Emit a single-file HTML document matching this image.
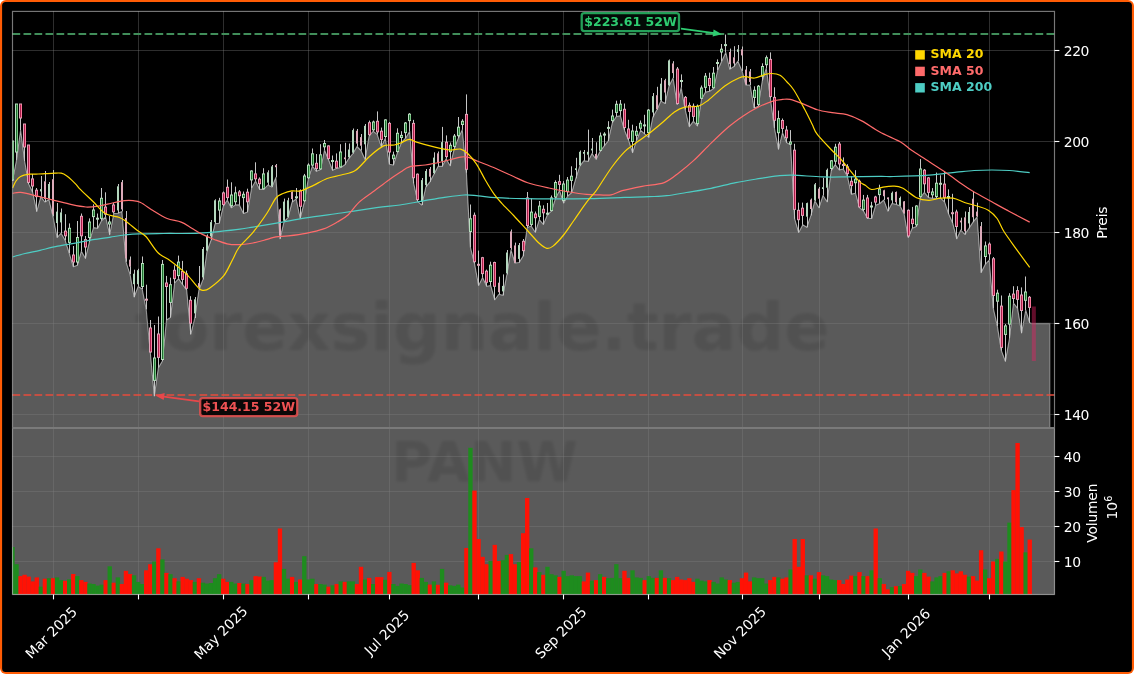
<!DOCTYPE html>
<html lang="de"><head><meta charset="utf-8"><title>PANW Chart</title>
<style>html,body{margin:0;padding:0;background:#fff}svg{display:block}text{font-family:"DejaVu Sans","Liberation Sans",sans-serif}</style>
</head><body>
<svg width="1134" height="674" viewBox="0 0 1134 674">
<defs>
<clipPath id="cm"><rect x="12.5" y="11.4" width="1042.0" height="416.6"/></clipPath>
<clipPath id="cv"><rect x="12.5" y="428.0" width="1042.0" height="166.5"/></clipPath>
<filter id="bl" x="-5%" y="-20%" width="110%" height="140%"><feGaussianBlur stdDeviation="1.6"/></filter>
</defs>
<rect x="0" y="0" width="1134" height="674" rx="6" ry="6" fill="#ff5c05"/>
<rect x="2.1" y="2.1" width="1129.8" height="669.8" rx="3.5" ry="3.5" fill="#000"/>
<rect x="12.5" y="428.0" width="1042.0" height="166.5" fill="#5a5a5a"/>
<g clip-path="url(#cm)">
<polygon points="12.5,428.0 12.5,181.0 12.5,181.0 16.5,160.0 20.6,130.0 24.6,161.0 28.7,184.0 32.7,192.3 36.8,211.4 40.8,196.6 44.9,202.0 48.9,199.5 53.0,216.3 57.1,237.5 61.1,233.2 65.2,240.3 69.2,253.0 73.3,266.7 77.3,265.3 81.4,251.2 85.4,258.3 89.5,241.7 93.5,227.6 97.6,228.3 101.6,220.5 105.7,217.0 109.7,234.7 113.8,213.5 117.8,213.2 121.9,211.4 126.0,261.8 130.0,274.1 134.1,297.0 138.1,286.5 142.2,289.0 146.2,309.4 150.3,352.5 154.3,396.0 158.4,367.7 162.4,361.0 166.5,320.0 170.5,317.4 174.6,283.0 178.6,278.6 182.7,284.7 186.7,290.0 190.8,334.1 194.8,318.0 198.9,290.0 203.0,279.4 207.0,251.2 211.1,240.0 215.1,223.6 219.2,223.2 223.2,206.3 227.3,200.0 231.3,207.7 235.4,204.9 239.4,204.9 243.5,213.4 247.5,212.0 251.6,188.0 255.6,180.9 259.7,189.4 263.7,189.4 267.8,185.0 271.9,187.0 275.9,177.4 280.0,238.6 284.0,221.8 288.1,217.4 292.1,202.0 296.2,199.0 300.2,218.3 304.3,202.0 308.3,178.8 312.4,166.0 316.4,171.3 320.5,169.6 324.5,150.0 328.6,159.8 332.6,170.3 336.7,168.2 340.8,167.5 344.8,164.7 348.9,158.3 352.9,153.5 357.0,146.5 361.0,150.5 365.1,159.4 369.1,136.0 373.2,131.2 377.2,134.4 381.3,146.7 385.3,138.2 389.4,164.3 393.4,165.0 397.5,152.3 401.5,142.5 405.6,138.2 409.7,131.2 413.7,183.4 417.8,201.7 421.8,205.0 425.9,186.9 429.9,181.8 434.0,174.0 438.0,166.4 442.1,166.4 446.1,158.7 450.2,165.7 454.2,148.8 458.3,138.2 462.3,129.8 466.4,172.8 470.4,247.4 474.5,263.3 478.6,285.5 482.6,277.5 486.7,286.3 490.7,285.5 494.8,299.8 498.8,294.2 502.9,295.3 506.9,274.4 511.0,249.8 515.0,263.0 519.1,262.5 523.1,256.1 527.2,227.5 531.2,226.0 535.3,232.3 539.3,219.6 543.4,224.4 547.5,214.5 551.5,211.2 555.6,198.0 559.6,190.5 563.7,203.1 567.7,196.0 571.8,192.5 575.8,178.3 579.9,165.9 583.9,160.7 588.0,161.4 592.0,153.6 596.1,159.3 600.1,151.3 604.2,145.9 608.2,140.9 612.3,122.8 616.3,116.5 620.4,115.8 624.5,130.2 628.5,140.0 632.6,152.6 636.6,140.2 640.7,130.3 644.7,133.9 648.8,137.3 652.8,117.2 656.9,109.7 660.9,100.9 665.0,103.5 669.0,85.9 673.1,78.0 677.1,104.4 681.2,87.7 685.2,109.7 689.3,126.6 693.4,121.2 697.4,125.8 701.5,99.0 705.5,92.1 709.6,91.2 713.6,88.5 717.7,70.0 721.7,61.2 725.8,52.4 729.8,69.1 733.9,66.5 737.9,61.2 742.0,70.9 746.0,85.0 750.1,85.0 754.1,108.0 758.2,106.2 762.3,80.6 766.3,68.2 770.4,98.3 774.4,128.0 778.5,149.2 782.5,132.6 786.6,142.5 790.6,144.9 794.7,218.8 798.7,232.5 802.8,224.8 806.8,227.3 810.9,215.4 814.9,200.9 819.0,207.7 823.0,195.5 827.1,201.8 831.2,170.6 835.2,164.6 839.3,169.9 843.3,169.0 847.4,176.3 851.4,194.1 855.5,193.2 859.5,207.7 863.6,211.1 867.6,218.5 871.7,218.5 875.7,205.2 879.8,203.5 883.8,200.0 887.9,211.1 891.9,203.5 896.0,204.3 900.1,206.0 904.1,213.7 908.2,237.5 912.2,228.2 916.3,226.5 920.3,197.5 924.4,192.4 928.4,197.5 932.5,198.3 936.5,198.2 940.6,198.2 944.6,201.8 948.7,214.1 952.7,223.0 956.8,238.8 960.8,230.0 964.9,234.4 968.9,228.3 973.0,222.1 977.1,216.8 981.1,272.4 985.2,264.4 989.2,260.0 993.3,308.3 997.3,325.9 1001.4,350.6 1005.4,361.2 1009.5,338.3 1013.5,303.0 1017.6,308.3 1021.6,333.0 1025.7,310.0 1029.7,322.7 1031.2,323.3 1049.8,323.3 1049.8,428.0" fill="#5a5a5a"/>
<polyline points="12.5,181.0 16.5,160.0 20.6,130.0 24.6,161.0 28.7,184.0 32.7,192.3 36.8,211.4 40.8,196.6 44.9,202.0 48.9,199.5 53.0,216.3 57.1,237.5 61.1,233.2 65.2,240.3 69.2,253.0 73.3,266.7 77.3,265.3 81.4,251.2 85.4,258.3 89.5,241.7 93.5,227.6 97.6,228.3 101.6,220.5 105.7,217.0 109.7,234.7 113.8,213.5 117.8,213.2 121.9,211.4 126.0,261.8 130.0,274.1 134.1,297.0 138.1,286.5 142.2,289.0 146.2,309.4 150.3,352.5 154.3,396.0 158.4,367.7 162.4,361.0 166.5,320.0 170.5,317.4 174.6,283.0 178.6,278.6 182.7,284.7 186.7,290.0 190.8,334.1 194.8,318.0 198.9,290.0 203.0,279.4 207.0,251.2 211.1,240.0 215.1,223.6 219.2,223.2 223.2,206.3 227.3,200.0 231.3,207.7 235.4,204.9 239.4,204.9 243.5,213.4 247.5,212.0 251.6,188.0 255.6,180.9 259.7,189.4 263.7,189.4 267.8,185.0 271.9,187.0 275.9,177.4 280.0,238.6 284.0,221.8 288.1,217.4 292.1,202.0 296.2,199.0 300.2,218.3 304.3,202.0 308.3,178.8 312.4,166.0 316.4,171.3 320.5,169.6 324.5,150.0 328.6,159.8 332.6,170.3 336.7,168.2 340.8,167.5 344.8,164.7 348.9,158.3 352.9,153.5 357.0,146.5 361.0,150.5 365.1,159.4 369.1,136.0 373.2,131.2 377.2,134.4 381.3,146.7 385.3,138.2 389.4,164.3 393.4,165.0 397.5,152.3 401.5,142.5 405.6,138.2 409.7,131.2 413.7,183.4 417.8,201.7 421.8,205.0 425.9,186.9 429.9,181.8 434.0,174.0 438.0,166.4 442.1,166.4 446.1,158.7 450.2,165.7 454.2,148.8 458.3,138.2 462.3,129.8 466.4,172.8 470.4,247.4 474.5,263.3 478.6,285.5 482.6,277.5 486.7,286.3 490.7,285.5 494.8,299.8 498.8,294.2 502.9,295.3 506.9,274.4 511.0,249.8 515.0,263.0 519.1,262.5 523.1,256.1 527.2,227.5 531.2,226.0 535.3,232.3 539.3,219.6 543.4,224.4 547.5,214.5 551.5,211.2 555.6,198.0 559.6,190.5 563.7,203.1 567.7,196.0 571.8,192.5 575.8,178.3 579.9,165.9 583.9,160.7 588.0,161.4 592.0,153.6 596.1,159.3 600.1,151.3 604.2,145.9 608.2,140.9 612.3,122.8 616.3,116.5 620.4,115.8 624.5,130.2 628.5,140.0 632.6,152.6 636.6,140.2 640.7,130.3 644.7,133.9 648.8,137.3 652.8,117.2 656.9,109.7 660.9,100.9 665.0,103.5 669.0,85.9 673.1,78.0 677.1,104.4 681.2,87.7 685.2,109.7 689.3,126.6 693.4,121.2 697.4,125.8 701.5,99.0 705.5,92.1 709.6,91.2 713.6,88.5 717.7,70.0 721.7,61.2 725.8,52.4 729.8,69.1 733.9,66.5 737.9,61.2 742.0,70.9 746.0,85.0 750.1,85.0 754.1,108.0 758.2,106.2 762.3,80.6 766.3,68.2 770.4,98.3 774.4,128.0 778.5,149.2 782.5,132.6 786.6,142.5 790.6,144.9 794.7,218.8 798.7,232.5 802.8,224.8 806.8,227.3 810.9,215.4 814.9,200.9 819.0,207.7 823.0,195.5 827.1,201.8 831.2,170.6 835.2,164.6 839.3,169.9 843.3,169.0 847.4,176.3 851.4,194.1 855.5,193.2 859.5,207.7 863.6,211.1 867.6,218.5 871.7,218.5 875.7,205.2 879.8,203.5 883.8,200.0 887.9,211.1 891.9,203.5 896.0,204.3 900.1,206.0 904.1,213.7 908.2,237.5 912.2,228.2 916.3,226.5 920.3,197.5 924.4,192.4 928.4,197.5 932.5,198.3 936.5,198.2 940.6,198.2 944.6,201.8 948.7,214.1 952.7,223.0 956.8,238.8 960.8,230.0 964.9,234.4 968.9,228.3 973.0,222.1 977.1,216.8 981.1,272.4 985.2,264.4 989.2,260.0 993.3,308.3 997.3,325.9 1001.4,350.6 1005.4,361.2 1009.5,338.3 1013.5,303.0 1017.6,308.3 1021.6,333.0 1025.7,310.0 1029.7,322.7 1031.2,323.3" fill="none" stroke="#fff" stroke-opacity="0.55" stroke-width="1.1" stroke-linejoin="round"/>
<polyline points="1031.2,323.4 1049.8,323.4 1049.8,428.0" fill="none" stroke="#fff" stroke-opacity="0.3" stroke-width="1.5"/>
</g>
<g clip-path="url(#cm)"><text x="482" y="350" text-anchor="middle" font-size="66.7" font-weight="bold" fill="#000" fill-opacity="0.1" filter="url(#bl)">forexsignale.trade</text></g>
<g clip-path="url(#cv)"><text x="484.5" y="481" text-anchor="middle" font-size="55.6" font-weight="bold" fill="#000" fill-opacity="0.1" filter="url(#bl)">PANW</text></g>
<g stroke="#808080" stroke-opacity="0.36" stroke-width="1">
<line x1="53.5" y1="11.4" x2="53.5" y2="594.5"/>
<line x1="138.5" y1="11.4" x2="138.5" y2="594.5"/>
<line x1="223.5" y1="11.4" x2="223.5" y2="594.5"/>
<line x1="308.5" y1="11.4" x2="308.5" y2="594.5"/>
<line x1="389.5" y1="11.4" x2="389.5" y2="594.5"/>
<line x1="478.5" y1="11.4" x2="478.5" y2="594.5"/>
<line x1="563.5" y1="11.4" x2="563.5" y2="594.5"/>
<line x1="648.5" y1="11.4" x2="648.5" y2="594.5"/>
<line x1="742.5" y1="11.4" x2="742.5" y2="594.5"/>
<line x1="819.5" y1="11.4" x2="819.5" y2="594.5"/>
<line x1="908.5" y1="11.4" x2="908.5" y2="594.5"/>
<line x1="989.5" y1="11.4" x2="989.5" y2="594.5"/>
<line x1="12.5" y1="50.5" x2="1054.5" y2="50.5"/>
<line x1="12.5" y1="141.5" x2="1054.5" y2="141.5"/>
<line x1="12.5" y1="232.5" x2="1054.5" y2="232.5"/>
<line x1="12.5" y1="323.5" x2="1054.5" y2="323.5"/>
<line x1="12.5" y1="414.5" x2="1054.5" y2="414.5"/>
<line x1="12.5" y1="456.5" x2="1054.5" y2="456.5"/>
<line x1="12.5" y1="491.5" x2="1054.5" y2="491.5"/>
<line x1="12.5" y1="526.5" x2="1054.5" y2="526.5"/>
<line x1="12.5" y1="561.5" x2="1054.5" y2="561.5"/>
</g>
<g clip-path="url(#cv)">
<rect x="10.29" y="547.0" width="4.35" height="47.5" fill="#1e8c1e"/>
<rect x="14.35" y="564.2" width="4.35" height="30.3" fill="#1e8c1e"/>
<rect x="18.40" y="576.1" width="4.35" height="18.4" fill="#ff1205"/>
<rect x="22.45" y="574.8" width="4.35" height="19.7" fill="#ff1205"/>
<rect x="26.51" y="576.6" width="4.35" height="17.9" fill="#ff1205"/>
<rect x="30.56" y="581.4" width="4.35" height="13.1" fill="#ff1205"/>
<rect x="34.61" y="577.4" width="4.35" height="17.1" fill="#ff1205"/>
<rect x="38.66" y="586.7" width="4.35" height="7.8" fill="#1e8c1e"/>
<rect x="42.72" y="578.7" width="4.35" height="15.8" fill="#ff1205"/>
<rect x="46.77" y="578.2" width="4.35" height="16.3" fill="#1e8c1e"/>
<rect x="50.82" y="578.2" width="4.35" height="16.3" fill="#ff1205"/>
<rect x="54.88" y="577.4" width="4.35" height="17.1" fill="#1e8c1e"/>
<rect x="58.93" y="580.1" width="4.35" height="14.4" fill="#1e8c1e"/>
<rect x="62.98" y="580.8" width="4.35" height="13.7" fill="#ff1205"/>
<rect x="67.03" y="579.3" width="4.35" height="15.2" fill="#1e8c1e"/>
<rect x="71.09" y="574.0" width="4.35" height="20.5" fill="#ff1205"/>
<rect x="75.14" y="576.1" width="4.35" height="18.4" fill="#1e8c1e"/>
<rect x="79.19" y="580.1" width="4.35" height="14.4" fill="#ff1205"/>
<rect x="83.25" y="581.9" width="4.35" height="12.6" fill="#ff1205"/>
<rect x="87.30" y="583.5" width="4.35" height="11.0" fill="#1e8c1e"/>
<rect x="91.35" y="584.0" width="4.35" height="10.5" fill="#1e8c1e"/>
<rect x="95.40" y="585.6" width="4.35" height="8.9" fill="#1e8c1e"/>
<rect x="99.46" y="584.6" width="4.35" height="9.9" fill="#1e8c1e"/>
<rect x="103.51" y="580.1" width="4.35" height="14.4" fill="#ff1205"/>
<rect x="107.56" y="566.3" width="4.35" height="28.2" fill="#1e8c1e"/>
<rect x="111.62" y="582.7" width="4.35" height="11.8" fill="#ff1205"/>
<rect x="115.67" y="577.4" width="4.35" height="17.1" fill="#1e8c1e"/>
<rect x="119.72" y="584.0" width="4.35" height="10.5" fill="#ff1205"/>
<rect x="123.77" y="570.8" width="4.35" height="23.7" fill="#ff1205"/>
<rect x="127.83" y="574.0" width="4.35" height="20.5" fill="#ff1205"/>
<rect x="131.88" y="575.3" width="4.35" height="19.2" fill="#1e8c1e"/>
<rect x="135.93" y="581.9" width="4.35" height="12.6" fill="#1e8c1e"/>
<rect x="139.99" y="584.0" width="4.35" height="10.5" fill="#1e8c1e"/>
<rect x="144.04" y="570.3" width="4.35" height="24.2" fill="#ff1205"/>
<rect x="148.09" y="564.2" width="4.35" height="30.3" fill="#ff1205"/>
<rect x="152.14" y="561.5" width="4.35" height="33.0" fill="#1e8c1e"/>
<rect x="156.20" y="548.3" width="4.35" height="46.2" fill="#ff1205"/>
<rect x="160.25" y="559.4" width="4.35" height="35.1" fill="#1e8c1e"/>
<rect x="164.30" y="572.9" width="4.35" height="21.6" fill="#ff1205"/>
<rect x="168.36" y="574.2" width="4.35" height="20.3" fill="#1e8c1e"/>
<rect x="172.41" y="578.2" width="4.35" height="16.3" fill="#ff1205"/>
<rect x="176.46" y="581.4" width="4.35" height="13.1" fill="#1e8c1e"/>
<rect x="180.51" y="576.9" width="4.35" height="17.6" fill="#ff1205"/>
<rect x="184.57" y="578.7" width="4.35" height="15.8" fill="#ff1205"/>
<rect x="188.62" y="580.1" width="4.35" height="14.4" fill="#ff1205"/>
<rect x="192.67" y="581.9" width="4.35" height="12.6" fill="#1e8c1e"/>
<rect x="196.73" y="578.2" width="4.35" height="16.3" fill="#ff1205"/>
<rect x="200.78" y="582.7" width="4.35" height="11.8" fill="#1e8c1e"/>
<rect x="204.83" y="583.5" width="4.35" height="11.0" fill="#1e8c1e"/>
<rect x="208.88" y="583.0" width="4.35" height="11.5" fill="#1e8c1e"/>
<rect x="212.94" y="578.2" width="4.35" height="16.3" fill="#1e8c1e"/>
<rect x="216.99" y="574.2" width="4.35" height="20.3" fill="#1e8c1e"/>
<rect x="221.04" y="578.7" width="4.35" height="15.8" fill="#ff1205"/>
<rect x="225.10" y="581.9" width="4.35" height="12.6" fill="#ff1205"/>
<rect x="229.15" y="581.9" width="4.35" height="12.6" fill="#1e8c1e"/>
<rect x="233.20" y="583.5" width="4.35" height="11.0" fill="#1e8c1e"/>
<rect x="237.25" y="583.0" width="4.35" height="11.5" fill="#ff1205"/>
<rect x="241.31" y="583.5" width="4.35" height="11.0" fill="#1e8c1e"/>
<rect x="245.36" y="584.0" width="4.35" height="10.5" fill="#ff1205"/>
<rect x="249.41" y="580.1" width="4.35" height="14.4" fill="#1e8c1e"/>
<rect x="253.47" y="576.1" width="4.35" height="18.4" fill="#ff1205"/>
<rect x="257.52" y="576.6" width="4.35" height="17.9" fill="#ff1205"/>
<rect x="261.57" y="576.9" width="4.35" height="17.6" fill="#1e8c1e"/>
<rect x="265.63" y="580.6" width="4.35" height="13.9" fill="#1e8c1e"/>
<rect x="269.68" y="580.1" width="4.35" height="14.4" fill="#1e8c1e"/>
<rect x="273.73" y="562.3" width="4.35" height="32.2" fill="#ff1205"/>
<rect x="277.78" y="528.5" width="4.35" height="66.0" fill="#ff1205"/>
<rect x="281.84" y="568.9" width="4.35" height="25.6" fill="#1e8c1e"/>
<rect x="285.89" y="578.7" width="4.35" height="15.8" fill="#1e8c1e"/>
<rect x="289.94" y="576.9" width="4.35" height="17.6" fill="#ff1205"/>
<rect x="294.00" y="581.9" width="4.35" height="12.6" fill="#1e8c1e"/>
<rect x="298.05" y="579.5" width="4.35" height="15.0" fill="#ff1205"/>
<rect x="302.10" y="556.2" width="4.35" height="38.3" fill="#1e8c1e"/>
<rect x="306.15" y="579.5" width="4.35" height="15.0" fill="#1e8c1e"/>
<rect x="310.21" y="578.7" width="4.35" height="15.8" fill="#1e8c1e"/>
<rect x="314.26" y="584.0" width="4.35" height="10.5" fill="#ff1205"/>
<rect x="318.31" y="584.0" width="4.35" height="10.5" fill="#1e8c1e"/>
<rect x="322.37" y="584.6" width="4.35" height="9.9" fill="#1e8c1e"/>
<rect x="326.42" y="586.7" width="4.35" height="7.8" fill="#ff1205"/>
<rect x="330.47" y="585.3" width="4.35" height="9.2" fill="#1e8c1e"/>
<rect x="334.52" y="584.0" width="4.35" height="10.5" fill="#ff1205"/>
<rect x="338.58" y="581.4" width="4.35" height="13.1" fill="#1e8c1e"/>
<rect x="342.63" y="581.9" width="4.35" height="12.6" fill="#ff1205"/>
<rect x="346.68" y="581.4" width="4.35" height="13.1" fill="#1e8c1e"/>
<rect x="350.74" y="581.4" width="4.35" height="13.1" fill="#1e8c1e"/>
<rect x="354.79" y="584.0" width="4.35" height="10.5" fill="#ff1205"/>
<rect x="358.84" y="566.8" width="4.35" height="27.7" fill="#ff1205"/>
<rect x="362.89" y="579.5" width="4.35" height="15.0" fill="#1e8c1e"/>
<rect x="366.95" y="577.9" width="4.35" height="16.6" fill="#ff1205"/>
<rect x="371.00" y="584.0" width="4.35" height="10.5" fill="#1e8c1e"/>
<rect x="375.05" y="577.1" width="4.35" height="17.4" fill="#ff1205"/>
<rect x="379.11" y="577.1" width="4.35" height="17.4" fill="#ff1205"/>
<rect x="383.16" y="579.8" width="4.35" height="14.7" fill="#1e8c1e"/>
<rect x="387.21" y="571.9" width="4.35" height="22.6" fill="#ff1205"/>
<rect x="391.26" y="584.0" width="4.35" height="10.5" fill="#1e8c1e"/>
<rect x="395.32" y="585.9" width="4.35" height="8.6" fill="#1e8c1e"/>
<rect x="399.37" y="583.5" width="4.35" height="11.0" fill="#1e8c1e"/>
<rect x="403.42" y="584.0" width="4.35" height="10.5" fill="#1e8c1e"/>
<rect x="407.48" y="585.1" width="4.35" height="9.4" fill="#1e8c1e"/>
<rect x="411.53" y="562.9" width="4.35" height="31.6" fill="#ff1205"/>
<rect x="415.58" y="570.3" width="4.35" height="24.2" fill="#ff1205"/>
<rect x="419.63" y="577.9" width="4.35" height="16.6" fill="#1e8c1e"/>
<rect x="423.69" y="581.9" width="4.35" height="12.6" fill="#1e8c1e"/>
<rect x="427.74" y="584.6" width="4.35" height="9.9" fill="#ff1205"/>
<rect x="431.79" y="581.4" width="4.35" height="13.1" fill="#1e8c1e"/>
<rect x="435.85" y="584.8" width="4.35" height="9.7" fill="#ff1205"/>
<rect x="439.90" y="568.9" width="4.35" height="25.6" fill="#1e8c1e"/>
<rect x="443.95" y="582.7" width="4.35" height="11.8" fill="#ff1205"/>
<rect x="448.00" y="585.3" width="4.35" height="9.2" fill="#1e8c1e"/>
<rect x="452.06" y="585.9" width="4.35" height="8.6" fill="#1e8c1e"/>
<rect x="456.11" y="584.6" width="4.35" height="9.9" fill="#1e8c1e"/>
<rect x="460.16" y="587.5" width="4.35" height="7.0" fill="#1e8c1e"/>
<rect x="464.22" y="548.0" width="4.35" height="46.5" fill="#ff1205"/>
<rect x="468.27" y="447.8" width="4.35" height="146.7" fill="#1e8c1e"/>
<rect x="472.32" y="490.6" width="4.35" height="103.9" fill="#ff1205"/>
<rect x="476.37" y="539.0" width="4.35" height="55.5" fill="#ff1205"/>
<rect x="480.43" y="556.8" width="4.35" height="37.7" fill="#ff1205"/>
<rect x="484.48" y="564.2" width="4.35" height="30.3" fill="#ff1205"/>
<rect x="488.53" y="561.0" width="4.35" height="33.5" fill="#1e8c1e"/>
<rect x="492.59" y="544.9" width="4.35" height="49.6" fill="#ff1205"/>
<rect x="496.64" y="561.0" width="4.35" height="33.5" fill="#ff1205"/>
<rect x="500.69" y="560.2" width="4.35" height="34.3" fill="#1e8c1e"/>
<rect x="504.74" y="554.9" width="4.35" height="39.6" fill="#1e8c1e"/>
<rect x="508.80" y="554.1" width="4.35" height="40.4" fill="#ff1205"/>
<rect x="512.85" y="564.2" width="4.35" height="30.3" fill="#ff1205"/>
<rect x="516.90" y="562.1" width="4.35" height="32.4" fill="#1e8c1e"/>
<rect x="520.96" y="533.2" width="4.35" height="61.3" fill="#ff1205"/>
<rect x="525.01" y="498.0" width="4.35" height="96.5" fill="#ff1205"/>
<rect x="529.06" y="548.3" width="4.35" height="46.2" fill="#1e8c1e"/>
<rect x="533.12" y="567.4" width="4.35" height="27.1" fill="#ff1205"/>
<rect x="537.17" y="572.1" width="4.35" height="22.4" fill="#1e8c1e"/>
<rect x="541.22" y="574.8" width="4.35" height="19.7" fill="#ff1205"/>
<rect x="545.27" y="566.8" width="4.35" height="27.7" fill="#1e8c1e"/>
<rect x="549.33" y="574.2" width="4.35" height="20.3" fill="#1e8c1e"/>
<rect x="553.38" y="575.3" width="4.35" height="19.2" fill="#1e8c1e"/>
<rect x="557.43" y="576.9" width="4.35" height="17.6" fill="#ff1205"/>
<rect x="561.49" y="570.8" width="4.35" height="23.7" fill="#1e8c1e"/>
<rect x="565.54" y="576.1" width="4.35" height="18.4" fill="#1e8c1e"/>
<rect x="569.59" y="575.3" width="4.35" height="19.2" fill="#1e8c1e"/>
<rect x="573.64" y="576.1" width="4.35" height="18.4" fill="#1e8c1e"/>
<rect x="577.70" y="576.1" width="4.35" height="18.4" fill="#1e8c1e"/>
<rect x="581.75" y="581.4" width="4.35" height="13.1" fill="#ff1205"/>
<rect x="585.80" y="572.6" width="4.35" height="21.9" fill="#ff1205"/>
<rect x="589.86" y="580.6" width="4.35" height="13.9" fill="#1e8c1e"/>
<rect x="593.91" y="580.1" width="4.35" height="14.4" fill="#ff1205"/>
<rect x="597.96" y="574.2" width="4.35" height="20.3" fill="#1e8c1e"/>
<rect x="602.01" y="576.9" width="4.35" height="17.6" fill="#ff1205"/>
<rect x="606.07" y="578.2" width="4.35" height="16.3" fill="#1e8c1e"/>
<rect x="610.12" y="577.9" width="4.35" height="16.6" fill="#1e8c1e"/>
<rect x="614.17" y="564.2" width="4.35" height="30.3" fill="#1e8c1e"/>
<rect x="618.23" y="578.2" width="4.35" height="16.3" fill="#1e8c1e"/>
<rect x="622.28" y="570.8" width="4.35" height="23.7" fill="#ff1205"/>
<rect x="626.33" y="577.9" width="4.35" height="16.6" fill="#ff1205"/>
<rect x="630.38" y="570.3" width="4.35" height="24.2" fill="#1e8c1e"/>
<rect x="634.44" y="577.4" width="4.35" height="17.1" fill="#1e8c1e"/>
<rect x="638.49" y="577.9" width="4.35" height="16.6" fill="#1e8c1e"/>
<rect x="642.54" y="580.1" width="4.35" height="14.4" fill="#ff1205"/>
<rect x="646.60" y="576.1" width="4.35" height="18.4" fill="#1e8c1e"/>
<rect x="650.65" y="577.9" width="4.35" height="16.6" fill="#1e8c1e"/>
<rect x="654.70" y="577.9" width="4.35" height="16.6" fill="#ff1205"/>
<rect x="658.75" y="570.3" width="4.35" height="24.2" fill="#1e8c1e"/>
<rect x="662.81" y="577.9" width="4.35" height="16.6" fill="#ff1205"/>
<rect x="666.86" y="578.2" width="4.35" height="16.3" fill="#1e8c1e"/>
<rect x="670.91" y="580.1" width="4.35" height="14.4" fill="#ff1205"/>
<rect x="674.97" y="576.9" width="4.35" height="17.6" fill="#ff1205"/>
<rect x="679.02" y="579.5" width="4.35" height="15.0" fill="#ff1205"/>
<rect x="683.07" y="580.1" width="4.35" height="14.4" fill="#ff1205"/>
<rect x="687.12" y="578.2" width="4.35" height="16.3" fill="#ff1205"/>
<rect x="691.18" y="581.9" width="4.35" height="12.6" fill="#ff1205"/>
<rect x="695.23" y="578.7" width="4.35" height="15.8" fill="#1e8c1e"/>
<rect x="699.28" y="580.6" width="4.35" height="13.9" fill="#1e8c1e"/>
<rect x="703.34" y="581.4" width="4.35" height="13.1" fill="#1e8c1e"/>
<rect x="707.39" y="580.1" width="4.35" height="14.4" fill="#ff1205"/>
<rect x="711.44" y="581.9" width="4.35" height="12.6" fill="#1e8c1e"/>
<rect x="715.49" y="583.5" width="4.35" height="11.0" fill="#1e8c1e"/>
<rect x="719.55" y="577.4" width="4.35" height="17.1" fill="#1e8c1e"/>
<rect x="723.60" y="579.5" width="4.35" height="15.0" fill="#1e8c1e"/>
<rect x="727.65" y="580.1" width="4.35" height="14.4" fill="#ff1205"/>
<rect x="731.71" y="582.7" width="4.35" height="11.8" fill="#1e8c1e"/>
<rect x="735.76" y="581.9" width="4.35" height="12.6" fill="#1e8c1e"/>
<rect x="739.81" y="578.2" width="4.35" height="16.3" fill="#ff1205"/>
<rect x="743.86" y="572.6" width="4.35" height="21.9" fill="#ff1205"/>
<rect x="747.92" y="581.4" width="4.35" height="13.1" fill="#ff1205"/>
<rect x="751.97" y="577.4" width="4.35" height="17.1" fill="#1e8c1e"/>
<rect x="756.02" y="578.2" width="4.35" height="16.3" fill="#1e8c1e"/>
<rect x="760.08" y="578.2" width="4.35" height="16.3" fill="#1e8c1e"/>
<rect x="764.13" y="583.5" width="4.35" height="11.0" fill="#1e8c1e"/>
<rect x="768.18" y="580.1" width="4.35" height="14.4" fill="#ff1205"/>
<rect x="772.24" y="576.9" width="4.35" height="17.6" fill="#ff1205"/>
<rect x="776.29" y="577.4" width="4.35" height="17.1" fill="#1e8c1e"/>
<rect x="780.34" y="578.7" width="4.35" height="15.8" fill="#ff1205"/>
<rect x="784.39" y="577.4" width="4.35" height="17.1" fill="#ff1205"/>
<rect x="788.45" y="569.5" width="4.35" height="25.0" fill="#1e8c1e"/>
<rect x="792.50" y="539.0" width="4.35" height="55.5" fill="#ff1205"/>
<rect x="796.55" y="566.8" width="4.35" height="27.7" fill="#ff1205"/>
<rect x="800.61" y="539.0" width="4.35" height="55.5" fill="#ff1205"/>
<rect x="804.66" y="575.3" width="4.35" height="19.2" fill="#1e8c1e"/>
<rect x="808.71" y="575.3" width="4.35" height="19.2" fill="#ff1205"/>
<rect x="812.76" y="578.7" width="4.35" height="15.8" fill="#1e8c1e"/>
<rect x="816.82" y="572.1" width="4.35" height="22.4" fill="#ff1205"/>
<rect x="820.87" y="575.3" width="4.35" height="19.2" fill="#1e8c1e"/>
<rect x="824.92" y="576.1" width="4.35" height="18.4" fill="#1e8c1e"/>
<rect x="828.98" y="579.5" width="4.35" height="15.0" fill="#1e8c1e"/>
<rect x="833.03" y="580.1" width="4.35" height="14.4" fill="#1e8c1e"/>
<rect x="837.08" y="580.1" width="4.35" height="14.4" fill="#ff1205"/>
<rect x="841.13" y="584.0" width="4.35" height="10.5" fill="#ff1205"/>
<rect x="845.19" y="579.5" width="4.35" height="15.0" fill="#ff1205"/>
<rect x="849.24" y="575.6" width="4.35" height="18.9" fill="#ff1205"/>
<rect x="853.29" y="576.1" width="4.35" height="18.4" fill="#1e8c1e"/>
<rect x="857.35" y="572.1" width="4.35" height="22.4" fill="#ff1205"/>
<rect x="861.40" y="576.1" width="4.35" height="18.4" fill="#1e8c1e"/>
<rect x="865.45" y="576.1" width="4.35" height="18.4" fill="#ff1205"/>
<rect x="869.50" y="570.3" width="4.35" height="24.2" fill="#1e8c1e"/>
<rect x="873.56" y="528.5" width="4.35" height="66.0" fill="#ff1205"/>
<rect x="877.61" y="578.2" width="4.35" height="16.3" fill="#1e8c1e"/>
<rect x="881.66" y="584.0" width="4.35" height="10.5" fill="#ff1205"/>
<rect x="885.72" y="589.3" width="4.35" height="5.2" fill="#ff1205"/>
<rect x="889.77" y="587.2" width="4.35" height="7.3" fill="#1e8c1e"/>
<rect x="893.82" y="586.1" width="4.35" height="8.4" fill="#ff1205"/>
<rect x="897.87" y="586.1" width="4.35" height="8.4" fill="#1e8c1e"/>
<rect x="901.93" y="584.0" width="4.35" height="10.5" fill="#ff1205"/>
<rect x="905.98" y="570.8" width="4.35" height="23.7" fill="#ff1205"/>
<rect x="910.03" y="572.9" width="4.35" height="21.6" fill="#ff1205"/>
<rect x="914.09" y="576.1" width="4.35" height="18.4" fill="#1e8c1e"/>
<rect x="918.14" y="569.5" width="4.35" height="25.0" fill="#1e8c1e"/>
<rect x="922.19" y="572.9" width="4.35" height="21.6" fill="#ff1205"/>
<rect x="926.24" y="576.6" width="4.35" height="17.9" fill="#ff1205"/>
<rect x="930.30" y="581.4" width="4.35" height="13.1" fill="#1e8c1e"/>
<rect x="934.35" y="577.4" width="4.35" height="17.1" fill="#1e8c1e"/>
<rect x="938.40" y="576.1" width="4.35" height="18.4" fill="#1e8c1e"/>
<rect x="942.46" y="572.9" width="4.35" height="21.6" fill="#ff1205"/>
<rect x="946.51" y="571.3" width="4.35" height="23.2" fill="#1e8c1e"/>
<rect x="950.56" y="570.3" width="4.35" height="24.2" fill="#ff1205"/>
<rect x="954.61" y="573.4" width="4.35" height="21.1" fill="#ff1205"/>
<rect x="958.67" y="571.3" width="4.35" height="23.2" fill="#ff1205"/>
<rect x="962.72" y="574.8" width="4.35" height="19.7" fill="#ff1205"/>
<rect x="966.77" y="576.6" width="4.35" height="17.9" fill="#1e8c1e"/>
<rect x="970.83" y="576.1" width="4.35" height="18.4" fill="#ff1205"/>
<rect x="974.88" y="580.6" width="4.35" height="13.9" fill="#ff1205"/>
<rect x="978.93" y="550.2" width="4.35" height="44.3" fill="#ff1205"/>
<rect x="982.98" y="569.5" width="4.35" height="25.0" fill="#1e8c1e"/>
<rect x="987.04" y="578.2" width="4.35" height="16.3" fill="#ff1205"/>
<rect x="991.09" y="561.5" width="4.35" height="33.0" fill="#ff1205"/>
<rect x="995.14" y="558.9" width="4.35" height="35.6" fill="#1e8c1e"/>
<rect x="999.20" y="551.5" width="4.35" height="43.0" fill="#ff1205"/>
<rect x="1003.25" y="561.5" width="4.35" height="33.0" fill="#1e8c1e"/>
<rect x="1007.30" y="522.6" width="4.35" height="71.9" fill="#1e8c1e"/>
<rect x="1011.35" y="490.1" width="4.35" height="104.4" fill="#ff1205"/>
<rect x="1015.41" y="443.0" width="4.35" height="151.5" fill="#ff1205"/>
<rect x="1019.46" y="527.1" width="4.35" height="67.4" fill="#ff1205"/>
<rect x="1023.51" y="552.3" width="4.35" height="42.2" fill="#1e8c1e"/>
<rect x="1027.57" y="539.6" width="4.35" height="54.9" fill="#ff1205"/>
</g>
<g clip-path="url(#cm)">
<path d="M12.5,141.0V141.0M12.5,180.0V181.0M16.5,104.0V104.0M16.5,152.0V160.0M20.5,104.0V104.0M20.5,118.0V130.0M24.5,124.0V124.0M24.5,147.0V161.0M28.5,145.0V145.0M28.5,182.4V184.0M32.5,174.0V178.9M32.5,186.0V192.3M36.5,188.0V190.2M36.5,196.6V211.4M41.5,176.0V189.5M41.5,191.0V196.6M45.5,171.0V181.7M45.5,198.7V202.0M49.5,182.0V184.4M49.5,198.0V199.5M53.5,170.0V179.6M53.5,214.0V216.3M57.5,203.0V212.0M57.5,222.7V237.5M61.5,208.5V212.8M61.5,222.0V233.2M65.5,214.2V231.1M65.5,235.8V240.3M69.5,223.4V228.3M69.5,242.4V253.0M73.5,246.0V255.0M73.5,262.0V266.7M77.5,221.0V237.5M77.5,262.0V265.3M81.5,213.5V216.3M81.5,235.8V251.2M85.5,236.0V239.6M85.5,247.0V258.3M89.5,218.4V222.0M89.5,237.5V241.7M93.5,204.3V210.0M93.5,216.6V227.6M97.5,213.5V218.2M97.5,219.2V228.3M101.5,188.0V198.3M101.5,218.4V220.5M105.5,192.3V207.1M105.5,214.2V217.0M109.5,216.0V222.0M109.5,224.0V234.7M113.5,203.0V205.0M113.5,211.8V213.5M118.5,184.0V186.7M118.5,210.0V213.2M122.5,180.0V182.5M122.5,209.0V211.4M126.5,211.0V218.4M126.5,258.0V261.8M130.5,256.5V260.0M130.5,266.2V274.1M134.5,269.7V274.1M134.5,283.8V297.0M138.5,268.8V270.6M138.5,283.8V286.5M142.5,256.5V263.5M142.5,286.5V289.0M146.5,284.7V299.2M146.5,300.2V309.4M150.5,320.0V328.0M150.5,352.0V352.5M154.5,325.0V358.0M154.5,380.4V396.0M158.5,316.5V334.0M158.5,357.4V367.7M162.5,260.0V264.4M162.5,359.5V361.0M166.5,275.9V283.0M166.5,286.5V320.0M170.5,277.7V284.7M170.5,302.4V317.4M174.5,265.3V270.3M174.5,278.6V283.0M178.5,255.6V262.1M178.5,275.6V278.6M182.5,260.9V271.5M182.5,279.4V284.7M186.5,270.6V273.8M186.5,288.3V290.0M190.5,296.2V300.3M190.5,323.2V334.1M195.5,297.0V299.7M195.5,313.0V318.0M199.5,266.0V283.5M199.5,286.5V290.0M203.5,247.0V249.4M203.5,277.0V279.4M207.5,234.4V236.2M207.5,250.3V251.2M211.5,220.0V222.5M211.5,236.0V240.0M215.5,199.3V200.7M215.5,221.8V223.6M219.5,197.8V201.0M219.5,210.1V223.2M223.5,191.5V192.9M223.5,204.6V206.3M227.5,179.5V187.3M227.5,197.6V200.0M231.5,182.3V195.0M231.5,205.6V207.7M235.5,186.6V192.9M235.5,201.7V204.9M239.5,190.1V191.9M239.5,195.7V204.9M243.5,191.5V194.3M243.5,197.6V213.4M247.5,188.7V192.2M247.5,201.8V212.0M251.5,170.3V171.0M251.5,179.9V188.0M255.5,162.3V173.9M255.5,178.8V180.9M259.5,177.4V179.2M259.5,183.7V189.4M263.5,168.2V173.9M263.5,188.7V189.4M268.5,170.3V172.7M268.5,182.3V185.0M272.5,165.0V166.8M272.5,185.9V187.0M276.5,164.0V165.6M276.5,166.8V177.4M280.5,208.4V209.8M280.5,235.0V238.6M284.5,198.6V202.0M284.5,220.4V221.8M288.5,197.8V200.7M288.5,216.5V217.4M292.5,191.5V192.2M292.5,198.6V202.0M296.5,188.0V196.8M296.5,197.8V199.0M300.5,189.4V190.8M300.5,206.3V218.3M304.5,173.9V176.0M304.5,200.7V202.0M308.5,163.3V165.1M308.5,177.8V178.8M312.5,148.5V153.8M312.5,165.1V166.0M316.5,154.0V163.3M316.5,168.6V171.3M320.5,144.2V154.8M320.5,168.9V169.6M324.5,140.0V143.5M324.5,146.8V150.0M328.5,145.3V145.9M328.5,158.6V159.8M332.5,155.5V160.5M332.5,161.4V170.3M336.5,153.4V161.2M336.5,167.8V168.2M340.5,144.2V152.0M340.5,166.8V167.5M345.5,142.8V157.8M345.5,158.8V164.7M349.5,143.5V149.9M349.5,156.9V158.3M353.5,128.5V130.5M353.5,152.3V153.5M357.5,129.0V131.2M357.5,143.2V146.5M361.5,134.0V137.5M361.5,145.3V150.5M365.5,124.0V126.2M365.5,143.9V159.4M369.5,120.6V122.7M369.5,134.7V136.0M373.5,120.6V122.0M373.5,129.8V131.2M377.5,111.4V121.3M377.5,131.9V134.4M381.5,127.6V131.2M381.5,139.6V146.7M385.5,119.2V119.9M385.5,136.5V138.2M389.5,122.0V123.4M389.5,152.0V164.3M393.5,151.6V155.1M393.5,158.7V165.0M397.5,128.3V133.3M397.5,151.6V152.3M401.5,131.2V135.4M401.5,137.5V142.5M405.5,122.0V123.0M405.5,132.6V138.2M409.5,113.1V114.2M409.5,120.6V131.2M413.5,119.9V123.4M413.5,177.7V183.4M417.5,173.5V174.2M417.5,199.6V201.7M422.5,178.0V180.5M422.5,201.7V205.0M426.5,169.0V171.4M426.5,184.8V186.9M430.5,167.0V169.3M430.5,176.3V181.8M434.5,152.3V158.0M434.5,172.8V174.0M438.5,151.5V153.7M438.5,162.2V166.4M442.5,126.9V142.5M442.5,160.8V166.4M446.5,135.4V142.2M446.5,156.6V158.7M450.5,142.5V145.3M450.5,151.6V165.7M454.5,134.0V136.1M454.5,146.4V148.8M458.5,117.0V127.2M458.5,135.7V138.2M462.5,119.2V121.3M462.5,124.5V129.8M466.5,94.4V114.4M466.5,169.3V172.8M470.5,204.5V218.8M470.5,231.5V247.4M474.5,212.5V215.3M474.5,261.7V263.3M478.5,250.6V264.3M478.5,265.3V285.5M482.5,256.9V257.7M482.5,273.6V277.5M486.5,269.6V271.2M486.5,282.3V286.3M490.5,261.7V265.2M490.5,281.5V285.5M494.5,261.7V262.5M494.5,286.3V299.8M499.5,276.7V283.1M499.5,291.8V294.2M503.5,274.4V286.3M503.5,291.0V295.3M507.5,250.0V252.9M507.5,272.8V274.4M511.5,229.5V231.8M511.5,247.7V249.8M515.5,242.6V245.8M515.5,262.5V263.0M519.5,243.0V245.5M519.5,258.5V262.5M523.5,239.0V241.3M523.5,250.6V256.1M527.5,192.0V197.9M527.5,225.5V227.5M531.5,198.2V212.1M531.5,224.4V226.0M535.5,211.5V214.0M535.5,217.7V232.3M539.5,201.0V206.1M539.5,216.4V219.6M543.5,205.3V209.3M543.5,212.8V224.4M547.5,203.0V213.2M547.5,214.2V214.5M551.5,195.5V197.9M551.5,210.6V211.2M555.5,180.4V182.5M555.5,197.0V198.0M559.5,174.8V181.6M559.5,184.4V190.5M563.5,181.1V184.0M563.5,200.5V203.1M567.5,177.0V180.1M567.5,191.7V196.0M571.5,166.3V176.2M571.5,180.4V192.5M576.5,157.8V168.6M576.5,169.6V178.3M580.5,150.5V152.2M580.5,164.9V165.9M584.5,150.0V152.4M584.5,153.4V160.7M588.5,129.6V152.2M588.5,154.3V161.4M592.5,138.0V149.0M592.5,150.0V153.6M596.5,142.3V154.3M596.5,157.8V159.3M600.5,132.5V136.0M600.5,150.3V151.3M604.5,132.2V134.1M604.5,135.1V145.9M608.5,121.2V127.4M608.5,128.4V140.9M612.5,109.6V116.0M612.5,120.6V122.8M616.5,100.7V104.3M616.5,112.4V116.5M620.5,100.0V104.2M620.5,110.6V115.8M624.5,103.5V109.3M624.5,127.5V130.2M628.5,119.8V129.0M628.5,138.2V140.0M632.5,124.7V131.0M632.5,141.5V152.6M636.5,126.1V131.3M636.5,135.3V140.2M640.5,120.5V123.3M640.5,128.2V130.3M644.5,114.8V124.9M644.5,125.9V133.9M648.5,109.0V110.1M648.5,132.6V137.3M653.5,93.0V96.5M653.5,112.0V117.2M657.5,86.8V95.6M657.5,108.8V109.7M661.5,78.0V84.1M661.5,100.0V100.9M665.5,78.8V80.6M665.5,92.1V103.5M669.5,59.5V60.8M669.5,85.0V85.9M673.5,61.2V63.8M673.5,72.7V78.0M677.5,67.0V69.1M677.5,103.5V104.4M681.5,74.4V80.5M681.5,81.5V87.7M685.5,96.0V97.4M685.5,106.2V109.7M689.5,102.5V105.4M689.5,111.4V126.6M693.5,103.5V106.2M693.5,116.4V121.2M697.5,104.5V106.2M697.5,123.6V125.8M701.5,85.5V88.0M701.5,98.3V99.0M705.5,73.0V76.2M705.5,87.3V92.1M709.5,72.7V78.5M709.5,85.5V91.2M713.5,67.0V73.2M713.5,87.7V88.5M717.5,59.4V62.5M717.5,63.5V70.0M721.5,44.0V49.2M721.5,52.0V61.2M725.5,34.6V44.6M725.5,45.6V52.4M730.5,48.6V52.4M730.5,63.8V69.1M734.5,46.2V57.7M734.5,63.0V66.5M738.5,45.0V49.7M738.5,51.5V61.2M742.5,46.5V49.7M742.5,55.0V70.9M746.5,66.0V70.0M746.5,84.0V85.0M750.5,69.0V71.8M750.5,81.5V85.0M754.5,86.3V90.3M754.5,97.4V108.0M758.5,85.0V86.2M758.5,104.4V106.2M762.5,63.3V66.5M762.5,76.2V80.6M766.5,55.5V57.7M766.5,64.7V68.2M770.5,52.4V59.4M770.5,96.5V98.3M774.5,87.3V97.4M774.5,120.3V128.0M778.5,110.6V118.6M778.5,132.7V149.2M782.5,118.5V120.5M782.5,128.4V132.6M786.5,125.9V130.1M786.5,137.8V142.5M790.5,130.1V142.0M790.5,144.1V144.9M794.5,143.8V150.2M794.5,209.4V218.8M798.5,202.6V210.3M798.5,219.7V232.5M802.5,202.6V208.2M802.5,215.4V224.8M807.5,202.6V203.5M807.5,216.3V227.3M811.5,198.5V200.0M811.5,208.6V215.4M815.5,183.0V184.7M815.5,200.0V200.9M819.5,187.0V189.0M819.5,198.3V207.7M823.5,177.9V187.6M823.5,188.6V195.5M827.5,168.5V170.2M827.5,187.3V201.8M831.5,160.0V160.8M831.5,168.5V170.6M835.5,143.8V147.2M835.5,161.2V164.6M839.5,142.0V144.1M839.5,163.9V169.9M843.5,157.4V164.5M843.5,165.5V169.0M847.5,164.2V166.8M847.5,173.6V176.3M851.5,176.2V181.3M851.5,185.6V194.1M855.5,170.2V179.2M855.5,182.7V193.2M859.5,179.6V181.3M859.5,206.9V207.7M863.5,194.9V200.1M863.5,209.4V211.1M867.5,194.9V198.0M867.5,217.6V218.5M871.5,201.8V206.0M871.5,207.0V218.5M875.5,195.8V197.0M875.5,202.1V205.2M879.5,184.7V189.0M879.5,194.6V203.5M884.5,189.8V190.7M884.5,195.8V200.0M888.5,197.5V197.8M888.5,198.8V211.1M892.5,191.5V193.2M892.5,200.0V203.5M896.5,191.5V192.4M896.5,201.8V204.3M900.5,196.5V198.3M900.5,205.2V206.0M904.5,201.0V201.8M904.5,212.8V213.7M908.5,209.4V210.3M908.5,235.9V237.5M912.5,206.9V219.2M912.5,223.6V228.2M916.5,205.2V206.0M916.5,224.8V226.5M920.5,159.1V169.0M920.5,196.6V197.5M924.5,169.0V170.2M924.5,183.8V192.4M928.5,177.0V177.9M928.5,192.4V197.5M932.5,188.1V192.0M932.5,194.8V198.3M936.5,172.6V183.2M936.5,196.5V198.2M940.5,175.3V183.3M940.5,184.3V198.2M944.5,171.0V184.1M944.5,197.4V201.8M948.5,189.4V196.5M948.5,198.0V214.1M952.5,193.8V212.7M952.5,213.7V223.0M956.5,209.7V212.0M956.5,226.5V238.8M961.5,217.7V221.0M961.5,222.0V230.0M965.5,211.5V217.7M965.5,230.9V234.4M969.5,207.0V212.4M969.5,223.0V228.3M973.5,191.2V199.1M973.5,216.8V222.1M977.5,202.7V212.0M977.5,215.9V216.8M981.5,222.0V226.5M981.5,250.3V272.4M985.5,241.5V245.9M985.5,256.5V264.4M989.5,242.4V244.1M989.5,253.8V260.0M993.5,257.0V258.8M993.5,295.5V308.3M997.5,289.7V293.2M997.5,301.2V325.9M1001.5,295.5V306.1M1001.5,347.4V350.6M1005.5,324.0V325.9M1005.5,334.4V361.2M1009.5,293.2V296.2M1009.5,324.1V338.3M1013.5,286.2V294.1M1013.5,298.5V303.0M1017.5,286.2V290.6M1017.5,299.4V308.3M1021.5,287.4V295.0M1021.5,310.5V333.0M1025.5,276.5V292.0M1025.5,300.3V310.0M1029.5,296.0V297.3M1029.5,307.4V322.7" stroke="#c6c6c6" stroke-width="1" fill="none"/>
<g fill="#b9deC0"><rect x="11" y="140.5" width="3" height="40.0"/><rect x="15" y="103.5" width="3" height="49.0"/><rect x="68" y="227.8" width="3" height="15.1"/><rect x="76" y="237.0" width="3" height="25.5"/><rect x="88" y="221.5" width="3" height="16.5"/><rect x="92" y="209.5" width="3" height="7.6"/><rect x="96" y="217.7" width="3" height="2.0"/><rect x="100" y="197.8" width="3" height="21.1"/><rect x="108" y="221.5" width="3" height="3.0"/><rect x="141" y="263.0" width="3" height="24.0"/><rect x="153" y="357.5" width="3" height="23.4"/><rect x="161" y="263.9" width="3" height="96.1"/><rect x="169" y="284.2" width="3" height="18.7"/><rect x="177" y="261.6" width="3" height="14.5"/><rect x="218" y="200.5" width="3" height="10.1"/><rect x="230" y="194.5" width="3" height="11.6"/><rect x="234" y="192.4" width="3" height="9.8"/><rect x="242" y="193.8" width="3" height="4.3"/><rect x="250" y="170.5" width="3" height="9.9"/><rect x="262" y="173.4" width="3" height="15.8"/><rect x="295" y="196.3" width="3" height="2.0"/><rect x="303" y="175.5" width="3" height="25.7"/><rect x="307" y="164.6" width="3" height="13.7"/><rect x="311" y="153.3" width="3" height="12.3"/><rect x="319" y="154.3" width="3" height="15.1"/><rect x="323" y="143.0" width="3" height="4.3"/><rect x="331" y="160.0" width="3" height="2.0"/><rect x="339" y="151.5" width="3" height="15.8"/><rect x="372" y="121.5" width="3" height="8.8"/><rect x="384" y="119.4" width="3" height="17.6"/><rect x="392" y="154.6" width="3" height="4.6"/><rect x="396" y="132.8" width="3" height="19.3"/><rect x="400" y="134.9" width="3" height="3.1"/><rect x="404" y="122.5" width="3" height="10.6"/><rect x="408" y="113.7" width="3" height="7.4"/><rect x="449" y="144.8" width="3" height="7.3"/><rect x="453" y="135.6" width="3" height="11.3"/><rect x="457" y="126.7" width="3" height="9.5"/><rect x="461" y="120.8" width="3" height="4.2"/><rect x="469" y="218.3" width="3" height="13.7"/><rect x="489" y="264.7" width="3" height="17.3"/><rect x="530" y="211.6" width="3" height="13.3"/><rect x="538" y="205.6" width="3" height="11.3"/><rect x="546" y="212.7" width="3" height="2.0"/><rect x="550" y="197.4" width="3" height="13.7"/><rect x="554" y="182.0" width="3" height="15.5"/><rect x="562" y="183.5" width="3" height="17.5"/><rect x="566" y="179.6" width="3" height="12.6"/><rect x="570" y="175.7" width="3" height="5.2"/><rect x="599" y="135.5" width="3" height="15.3"/><rect x="603" y="133.6" width="3" height="2.0"/><rect x="607" y="126.9" width="3" height="2.0"/><rect x="611" y="115.5" width="3" height="5.6"/><rect x="615" y="103.8" width="3" height="9.1"/><rect x="619" y="103.7" width="3" height="7.4"/><rect x="631" y="130.5" width="3" height="11.5"/><rect x="635" y="130.8" width="3" height="5.0"/><rect x="639" y="122.8" width="3" height="5.9"/><rect x="643" y="124.4" width="3" height="2.0"/><rect x="647" y="109.6" width="3" height="23.5"/><rect x="680" y="80.0" width="3" height="2.0"/><rect x="696" y="105.7" width="3" height="18.4"/><rect x="700" y="87.5" width="3" height="11.3"/><rect x="704" y="75.7" width="3" height="12.1"/><rect x="712" y="72.7" width="3" height="15.5"/><rect x="716" y="62.0" width="3" height="2.0"/><rect x="720" y="48.7" width="3" height="3.8"/><rect x="724" y="44.1" width="3" height="2.0"/><rect x="753" y="89.8" width="3" height="8.1"/><rect x="757" y="85.7" width="3" height="19.2"/><rect x="761" y="66.0" width="3" height="10.7"/><rect x="765" y="57.2" width="3" height="8.0"/><rect x="777" y="118.1" width="3" height="15.1"/><rect x="789" y="141.5" width="3" height="3.1"/><rect x="830" y="160.3" width="3" height="8.7"/><rect x="834" y="146.7" width="3" height="15.0"/><rect x="854" y="178.7" width="3" height="4.5"/><rect x="862" y="199.6" width="3" height="10.3"/><rect x="870" y="205.5" width="3" height="2.0"/><rect x="878" y="188.5" width="3" height="6.6"/><rect x="915" y="205.5" width="3" height="19.8"/><rect x="919" y="168.5" width="3" height="28.6"/><rect x="931" y="191.5" width="3" height="3.8"/><rect x="935" y="182.7" width="3" height="14.3"/><rect x="939" y="182.8" width="3" height="2.0"/><rect x="947" y="196.0" width="3" height="2.5"/><rect x="984" y="245.4" width="3" height="11.6"/><rect x="996" y="292.7" width="3" height="9.0"/><rect x="1004" y="325.4" width="3" height="9.5"/><rect x="1008" y="295.7" width="3" height="28.9"/><rect x="1024" y="291.5" width="3" height="9.3"/></g>
<g fill="#e1a5b9"><rect x="19" y="103.5" width="3" height="15.0"/><rect x="23" y="123.5" width="3" height="24.0"/><rect x="27" y="144.5" width="3" height="38.4"/><rect x="31" y="178.4" width="3" height="8.1"/><rect x="35" y="189.7" width="3" height="7.4"/><rect x="64" y="230.6" width="3" height="5.7"/><rect x="72" y="254.5" width="3" height="8.0"/><rect x="80" y="215.8" width="3" height="20.5"/><rect x="84" y="239.1" width="3" height="8.4"/><rect x="104" y="206.6" width="3" height="8.1"/><rect x="112" y="204.5" width="3" height="7.8"/><rect x="145" y="298.7" width="3" height="2.0"/><rect x="149" y="327.5" width="3" height="25.0"/><rect x="157" y="333.5" width="3" height="24.4"/><rect x="165" y="282.5" width="3" height="4.5"/><rect x="173" y="269.8" width="3" height="9.3"/><rect x="181" y="271.0" width="3" height="8.9"/><rect x="185" y="273.3" width="3" height="15.5"/><rect x="189" y="299.8" width="3" height="23.9"/><rect x="222" y="192.4" width="3" height="12.7"/><rect x="226" y="186.8" width="3" height="11.3"/><rect x="238" y="191.4" width="3" height="4.8"/><rect x="246" y="191.7" width="3" height="10.6"/><rect x="254" y="173.4" width="3" height="5.9"/><rect x="258" y="178.7" width="3" height="5.5"/><rect x="299" y="190.3" width="3" height="16.5"/><rect x="315" y="162.8" width="3" height="6.3"/><rect x="327" y="145.4" width="3" height="13.7"/><rect x="335" y="160.7" width="3" height="7.6"/><rect x="368" y="122.2" width="3" height="13.0"/><rect x="376" y="120.8" width="3" height="11.6"/><rect x="380" y="130.7" width="3" height="9.4"/><rect x="388" y="122.9" width="3" height="29.6"/><rect x="412" y="122.9" width="3" height="55.3"/><rect x="416" y="173.7" width="3" height="26.4"/><rect x="445" y="141.7" width="3" height="15.4"/><rect x="465" y="113.9" width="3" height="55.9"/><rect x="473" y="214.8" width="3" height="47.4"/><rect x="477" y="263.8" width="3" height="2.0"/><rect x="481" y="257.2" width="3" height="16.9"/><rect x="485" y="270.7" width="3" height="12.1"/><rect x="493" y="262.0" width="3" height="24.8"/><rect x="522" y="240.8" width="3" height="10.3"/><rect x="526" y="197.4" width="3" height="28.6"/><rect x="534" y="213.5" width="3" height="4.7"/><rect x="542" y="208.8" width="3" height="4.5"/><rect x="558" y="181.1" width="3" height="3.8"/><rect x="623" y="108.8" width="3" height="19.2"/><rect x="627" y="128.5" width="3" height="10.2"/><rect x="676" y="68.6" width="3" height="35.4"/><rect x="684" y="96.9" width="3" height="9.8"/><rect x="688" y="104.9" width="3" height="7.0"/><rect x="692" y="105.7" width="3" height="11.2"/><rect x="708" y="78.0" width="3" height="8.0"/><rect x="769" y="58.9" width="3" height="38.1"/><rect x="773" y="96.9" width="3" height="23.9"/><rect x="781" y="120.0" width="3" height="8.9"/><rect x="785" y="129.6" width="3" height="8.7"/><rect x="793" y="149.7" width="3" height="60.2"/><rect x="797" y="209.8" width="3" height="10.4"/><rect x="801" y="207.7" width="3" height="8.2"/><rect x="838" y="143.6" width="3" height="20.8"/><rect x="842" y="164.0" width="3" height="2.0"/><rect x="846" y="166.3" width="3" height="7.8"/><rect x="850" y="180.8" width="3" height="5.3"/><rect x="858" y="180.8" width="3" height="26.6"/><rect x="866" y="197.5" width="3" height="20.6"/><rect x="874" y="196.5" width="3" height="6.1"/><rect x="907" y="209.8" width="3" height="26.6"/><rect x="911" y="218.7" width="3" height="5.4"/><rect x="923" y="169.7" width="3" height="14.6"/><rect x="927" y="177.4" width="3" height="15.5"/><rect x="943" y="183.6" width="3" height="14.3"/><rect x="951" y="212.2" width="3" height="2.0"/><rect x="955" y="211.5" width="3" height="15.5"/><rect x="988" y="243.6" width="3" height="10.7"/><rect x="992" y="258.3" width="3" height="37.7"/><rect x="1000" y="305.6" width="3" height="42.3"/><rect x="1012" y="293.6" width="3" height="5.4"/><rect x="1016" y="290.1" width="3" height="9.8"/><rect x="1020" y="294.5" width="3" height="16.5"/><rect x="1028" y="296.8" width="3" height="11.1"/></g>
<g fill="#1e7030"><rect x="12" y="141.5" width="1" height="38.0"/><rect x="16" y="104.5" width="1" height="47.0"/><rect x="69" y="228.8" width="1" height="13.1"/><rect x="77" y="238.0" width="1" height="23.5"/><rect x="89" y="222.5" width="1" height="14.5"/><rect x="93" y="210.5" width="1" height="5.6"/><rect x="101" y="198.8" width="1" height="19.1"/><rect x="109" y="222.5" width="1" height="1.0"/><rect x="142" y="264.0" width="1" height="22.0"/><rect x="154" y="358.5" width="1" height="21.4"/><rect x="162" y="264.9" width="1" height="94.1"/><rect x="170" y="285.2" width="1" height="16.7"/><rect x="178" y="262.6" width="1" height="12.5"/><rect x="219" y="201.5" width="1" height="8.1"/><rect x="231" y="195.5" width="1" height="9.6"/><rect x="235" y="193.4" width="1" height="7.8"/><rect x="243" y="194.8" width="1" height="2.3"/><rect x="251" y="171.5" width="1" height="7.9"/><rect x="263" y="174.4" width="1" height="13.8"/><rect x="304" y="176.5" width="1" height="23.7"/><rect x="308" y="165.6" width="1" height="11.7"/><rect x="312" y="154.3" width="1" height="10.3"/><rect x="320" y="155.3" width="1" height="13.1"/><rect x="324" y="144.0" width="1" height="2.3"/><rect x="340" y="152.5" width="1" height="13.8"/><rect x="373" y="122.5" width="1" height="6.8"/><rect x="385" y="120.4" width="1" height="15.6"/><rect x="393" y="155.6" width="1" height="2.6"/><rect x="397" y="133.8" width="1" height="17.3"/><rect x="401" y="135.9" width="1" height="1.1"/><rect x="405" y="123.5" width="1" height="8.6"/><rect x="409" y="114.7" width="1" height="5.4"/><rect x="450" y="145.8" width="1" height="5.3"/><rect x="454" y="136.6" width="1" height="9.3"/><rect x="458" y="127.7" width="1" height="7.5"/><rect x="462" y="121.8" width="1" height="2.2"/><rect x="470" y="219.3" width="1" height="11.7"/><rect x="490" y="265.7" width="1" height="15.3"/><rect x="531" y="212.6" width="1" height="11.3"/><rect x="539" y="206.6" width="1" height="9.3"/><rect x="551" y="198.4" width="1" height="11.7"/><rect x="555" y="183.0" width="1" height="13.5"/><rect x="563" y="184.5" width="1" height="15.5"/><rect x="567" y="180.6" width="1" height="10.6"/><rect x="571" y="176.7" width="1" height="3.2"/><rect x="600" y="136.5" width="1" height="13.3"/><rect x="612" y="116.5" width="1" height="3.6"/><rect x="616" y="104.8" width="1" height="7.1"/><rect x="620" y="104.7" width="1" height="5.4"/><rect x="632" y="131.5" width="1" height="9.5"/><rect x="636" y="131.8" width="1" height="3.0"/><rect x="640" y="123.8" width="1" height="3.9"/><rect x="648" y="110.6" width="1" height="21.5"/><rect x="697" y="106.7" width="1" height="16.4"/><rect x="701" y="88.5" width="1" height="9.3"/><rect x="705" y="76.7" width="1" height="10.1"/><rect x="713" y="73.7" width="1" height="13.5"/><rect x="721" y="49.7" width="1" height="1.8"/><rect x="754" y="90.8" width="1" height="6.1"/><rect x="758" y="86.7" width="1" height="17.2"/><rect x="762" y="67.0" width="1" height="8.7"/><rect x="766" y="58.2" width="1" height="6.0"/><rect x="778" y="119.1" width="1" height="13.1"/><rect x="790" y="142.5" width="1" height="1.1"/><rect x="831" y="161.3" width="1" height="6.7"/><rect x="835" y="147.7" width="1" height="13.0"/><rect x="855" y="179.7" width="1" height="2.5"/><rect x="863" y="200.6" width="1" height="8.3"/><rect x="879" y="189.5" width="1" height="4.6"/><rect x="916" y="206.5" width="1" height="17.8"/><rect x="920" y="169.5" width="1" height="26.6"/><rect x="932" y="192.5" width="1" height="1.8"/><rect x="936" y="183.7" width="1" height="12.3"/><rect x="985" y="246.4" width="1" height="9.6"/><rect x="997" y="293.7" width="1" height="7.0"/><rect x="1005" y="326.4" width="1" height="7.5"/><rect x="1009" y="296.7" width="1" height="26.9"/><rect x="1025" y="292.5" width="1" height="7.3"/></g>
<g fill="#aa1e4b"><rect x="20" y="104.5" width="1" height="13.0"/><rect x="24" y="124.5" width="1" height="22.0"/><rect x="28" y="145.5" width="1" height="36.4"/><rect x="32" y="179.4" width="1" height="6.1"/><rect x="36" y="190.7" width="1" height="5.4"/><rect x="65" y="231.6" width="1" height="3.7"/><rect x="73" y="255.5" width="1" height="6.0"/><rect x="81" y="216.8" width="1" height="18.5"/><rect x="85" y="240.1" width="1" height="6.4"/><rect x="105" y="207.6" width="1" height="6.1"/><rect x="113" y="205.5" width="1" height="5.8"/><rect x="150" y="328.5" width="1" height="23.0"/><rect x="158" y="334.5" width="1" height="22.4"/><rect x="166" y="283.5" width="1" height="2.5"/><rect x="174" y="270.8" width="1" height="7.3"/><rect x="182" y="272.0" width="1" height="6.9"/><rect x="186" y="274.3" width="1" height="13.5"/><rect x="190" y="300.8" width="1" height="21.9"/><rect x="223" y="193.4" width="1" height="10.7"/><rect x="227" y="187.8" width="1" height="9.3"/><rect x="239" y="192.4" width="1" height="2.8"/><rect x="247" y="192.7" width="1" height="8.6"/><rect x="255" y="174.4" width="1" height="3.9"/><rect x="259" y="179.7" width="1" height="3.5"/><rect x="300" y="191.3" width="1" height="14.5"/><rect x="316" y="163.8" width="1" height="4.3"/><rect x="328" y="146.4" width="1" height="11.7"/><rect x="336" y="161.7" width="1" height="5.6"/><rect x="369" y="123.2" width="1" height="11.0"/><rect x="377" y="121.8" width="1" height="9.6"/><rect x="381" y="131.7" width="1" height="7.4"/><rect x="389" y="123.9" width="1" height="27.6"/><rect x="413" y="123.9" width="1" height="53.3"/><rect x="417" y="174.7" width="1" height="24.4"/><rect x="446" y="142.7" width="1" height="13.4"/><rect x="466" y="114.9" width="1" height="53.9"/><rect x="474" y="215.8" width="1" height="45.4"/><rect x="482" y="258.2" width="1" height="14.9"/><rect x="486" y="271.7" width="1" height="10.1"/><rect x="494" y="263.0" width="1" height="22.8"/><rect x="523" y="241.8" width="1" height="8.3"/><rect x="527" y="198.4" width="1" height="26.6"/><rect x="535" y="214.5" width="1" height="2.7"/><rect x="543" y="209.8" width="1" height="2.5"/><rect x="559" y="182.1" width="1" height="1.8"/><rect x="624" y="109.8" width="1" height="17.2"/><rect x="628" y="129.5" width="1" height="8.2"/><rect x="677" y="69.6" width="1" height="33.4"/><rect x="685" y="97.9" width="1" height="7.8"/><rect x="689" y="105.9" width="1" height="5.0"/><rect x="693" y="106.7" width="1" height="9.2"/><rect x="709" y="79.0" width="1" height="6.0"/><rect x="770" y="59.9" width="1" height="36.1"/><rect x="774" y="97.9" width="1" height="21.9"/><rect x="782" y="121.0" width="1" height="6.9"/><rect x="786" y="130.6" width="1" height="6.7"/><rect x="794" y="150.7" width="1" height="58.2"/><rect x="798" y="210.8" width="1" height="8.4"/><rect x="802" y="208.7" width="1" height="6.2"/><rect x="839" y="144.6" width="1" height="18.8"/><rect x="847" y="167.3" width="1" height="5.8"/><rect x="851" y="181.8" width="1" height="3.3"/><rect x="859" y="181.8" width="1" height="24.6"/><rect x="867" y="198.5" width="1" height="18.6"/><rect x="875" y="197.5" width="1" height="4.1"/><rect x="908" y="210.8" width="1" height="24.6"/><rect x="912" y="219.7" width="1" height="3.4"/><rect x="924" y="170.7" width="1" height="12.6"/><rect x="928" y="178.4" width="1" height="13.5"/><rect x="944" y="184.6" width="1" height="12.3"/><rect x="956" y="212.5" width="1" height="13.5"/><rect x="989" y="244.6" width="1" height="8.7"/><rect x="993" y="259.3" width="1" height="35.7"/><rect x="1001" y="306.6" width="1" height="40.3"/><rect x="1013" y="294.6" width="1" height="3.4"/><rect x="1017" y="291.1" width="1" height="7.8"/><rect x="1021" y="295.5" width="1" height="14.5"/><rect x="1029" y="297.8" width="1" height="9.1"/></g>
<g fill="#78c382"><rect x="13" y="141.5" width="1" height="38.0"/><rect x="17" y="104.5" width="1" height="47.0"/><rect x="70" y="228.8" width="1" height="13.1"/><rect x="78" y="238.0" width="1" height="23.5"/><rect x="90" y="222.5" width="1" height="14.5"/><rect x="94" y="210.5" width="1" height="5.6"/><rect x="102" y="198.8" width="1" height="19.1"/><rect x="110" y="222.5" width="1" height="1.0"/><rect x="143" y="264.0" width="1" height="22.0"/><rect x="155" y="358.5" width="1" height="21.4"/><rect x="163" y="264.9" width="1" height="94.1"/><rect x="171" y="285.2" width="1" height="16.7"/><rect x="179" y="262.6" width="1" height="12.5"/><rect x="220" y="201.5" width="1" height="8.1"/><rect x="232" y="195.5" width="1" height="9.6"/><rect x="236" y="193.4" width="1" height="7.8"/><rect x="244" y="194.8" width="1" height="2.3"/><rect x="252" y="171.5" width="1" height="7.9"/><rect x="264" y="174.4" width="1" height="13.8"/><rect x="305" y="176.5" width="1" height="23.7"/><rect x="309" y="165.6" width="1" height="11.7"/><rect x="313" y="154.3" width="1" height="10.3"/><rect x="321" y="155.3" width="1" height="13.1"/><rect x="325" y="144.0" width="1" height="2.3"/><rect x="341" y="152.5" width="1" height="13.8"/><rect x="374" y="122.5" width="1" height="6.8"/><rect x="386" y="120.4" width="1" height="15.6"/><rect x="394" y="155.6" width="1" height="2.6"/><rect x="398" y="133.8" width="1" height="17.3"/><rect x="402" y="135.9" width="1" height="1.1"/><rect x="406" y="123.5" width="1" height="8.6"/><rect x="410" y="114.7" width="1" height="5.4"/><rect x="451" y="145.8" width="1" height="5.3"/><rect x="455" y="136.6" width="1" height="9.3"/><rect x="459" y="127.7" width="1" height="7.5"/><rect x="463" y="121.8" width="1" height="2.2"/><rect x="471" y="219.3" width="1" height="11.7"/><rect x="491" y="265.7" width="1" height="15.3"/><rect x="532" y="212.6" width="1" height="11.3"/><rect x="540" y="206.6" width="1" height="9.3"/><rect x="552" y="198.4" width="1" height="11.7"/><rect x="556" y="183.0" width="1" height="13.5"/><rect x="564" y="184.5" width="1" height="15.5"/><rect x="568" y="180.6" width="1" height="10.6"/><rect x="572" y="176.7" width="1" height="3.2"/><rect x="601" y="136.5" width="1" height="13.3"/><rect x="613" y="116.5" width="1" height="3.6"/><rect x="617" y="104.8" width="1" height="7.1"/><rect x="621" y="104.7" width="1" height="5.4"/><rect x="633" y="131.5" width="1" height="9.5"/><rect x="637" y="131.8" width="1" height="3.0"/><rect x="641" y="123.8" width="1" height="3.9"/><rect x="649" y="110.6" width="1" height="21.5"/><rect x="698" y="106.7" width="1" height="16.4"/><rect x="702" y="88.5" width="1" height="9.3"/><rect x="706" y="76.7" width="1" height="10.1"/><rect x="714" y="73.7" width="1" height="13.5"/><rect x="722" y="49.7" width="1" height="1.8"/><rect x="755" y="90.8" width="1" height="6.1"/><rect x="759" y="86.7" width="1" height="17.2"/><rect x="763" y="67.0" width="1" height="8.7"/><rect x="767" y="58.2" width="1" height="6.0"/><rect x="779" y="119.1" width="1" height="13.1"/><rect x="791" y="142.5" width="1" height="1.1"/><rect x="832" y="161.3" width="1" height="6.7"/><rect x="836" y="147.7" width="1" height="13.0"/><rect x="856" y="179.7" width="1" height="2.5"/><rect x="864" y="200.6" width="1" height="8.3"/><rect x="880" y="189.5" width="1" height="4.6"/><rect x="917" y="206.5" width="1" height="17.8"/><rect x="921" y="169.5" width="1" height="26.6"/><rect x="933" y="192.5" width="1" height="1.8"/><rect x="937" y="183.7" width="1" height="12.3"/><rect x="986" y="246.4" width="1" height="9.6"/><rect x="998" y="293.7" width="1" height="7.0"/><rect x="1006" y="326.4" width="1" height="7.5"/><rect x="1010" y="296.7" width="1" height="26.9"/><rect x="1026" y="292.5" width="1" height="7.3"/></g>
<g fill="#fa789b"><rect x="21" y="104.5" width="1" height="13.0"/><rect x="25" y="124.5" width="1" height="22.0"/><rect x="29" y="145.5" width="1" height="36.4"/><rect x="33" y="179.4" width="1" height="6.1"/><rect x="37" y="190.7" width="1" height="5.4"/><rect x="66" y="231.6" width="1" height="3.7"/><rect x="74" y="255.5" width="1" height="6.0"/><rect x="82" y="216.8" width="1" height="18.5"/><rect x="86" y="240.1" width="1" height="6.4"/><rect x="106" y="207.6" width="1" height="6.1"/><rect x="114" y="205.5" width="1" height="5.8"/><rect x="151" y="328.5" width="1" height="23.0"/><rect x="159" y="334.5" width="1" height="22.4"/><rect x="167" y="283.5" width="1" height="2.5"/><rect x="175" y="270.8" width="1" height="7.3"/><rect x="183" y="272.0" width="1" height="6.9"/><rect x="187" y="274.3" width="1" height="13.5"/><rect x="191" y="300.8" width="1" height="21.9"/><rect x="224" y="193.4" width="1" height="10.7"/><rect x="228" y="187.8" width="1" height="9.3"/><rect x="240" y="192.4" width="1" height="2.8"/><rect x="248" y="192.7" width="1" height="8.6"/><rect x="256" y="174.4" width="1" height="3.9"/><rect x="260" y="179.7" width="1" height="3.5"/><rect x="301" y="191.3" width="1" height="14.5"/><rect x="317" y="163.8" width="1" height="4.3"/><rect x="329" y="146.4" width="1" height="11.7"/><rect x="337" y="161.7" width="1" height="5.6"/><rect x="370" y="123.2" width="1" height="11.0"/><rect x="378" y="121.8" width="1" height="9.6"/><rect x="382" y="131.7" width="1" height="7.4"/><rect x="390" y="123.9" width="1" height="27.6"/><rect x="414" y="123.9" width="1" height="53.3"/><rect x="418" y="174.7" width="1" height="24.4"/><rect x="447" y="142.7" width="1" height="13.4"/><rect x="467" y="114.9" width="1" height="53.9"/><rect x="475" y="215.8" width="1" height="45.4"/><rect x="483" y="258.2" width="1" height="14.9"/><rect x="487" y="271.7" width="1" height="10.1"/><rect x="495" y="263.0" width="1" height="22.8"/><rect x="524" y="241.8" width="1" height="8.3"/><rect x="528" y="198.4" width="1" height="26.6"/><rect x="536" y="214.5" width="1" height="2.7"/><rect x="544" y="209.8" width="1" height="2.5"/><rect x="560" y="182.1" width="1" height="1.8"/><rect x="625" y="109.8" width="1" height="17.2"/><rect x="629" y="129.5" width="1" height="8.2"/><rect x="678" y="69.6" width="1" height="33.4"/><rect x="686" y="97.9" width="1" height="7.8"/><rect x="690" y="105.9" width="1" height="5.0"/><rect x="694" y="106.7" width="1" height="9.2"/><rect x="710" y="79.0" width="1" height="6.0"/><rect x="771" y="59.9" width="1" height="36.1"/><rect x="775" y="97.9" width="1" height="21.9"/><rect x="783" y="121.0" width="1" height="6.9"/><rect x="787" y="130.6" width="1" height="6.7"/><rect x="795" y="150.7" width="1" height="58.2"/><rect x="799" y="210.8" width="1" height="8.4"/><rect x="803" y="208.7" width="1" height="6.2"/><rect x="840" y="144.6" width="1" height="18.8"/><rect x="848" y="167.3" width="1" height="5.8"/><rect x="852" y="181.8" width="1" height="3.3"/><rect x="860" y="181.8" width="1" height="24.6"/><rect x="868" y="198.5" width="1" height="18.6"/><rect x="876" y="197.5" width="1" height="4.1"/><rect x="909" y="210.8" width="1" height="24.6"/><rect x="913" y="219.7" width="1" height="3.4"/><rect x="925" y="170.7" width="1" height="12.6"/><rect x="929" y="178.4" width="1" height="13.5"/><rect x="945" y="184.6" width="1" height="12.3"/><rect x="957" y="212.5" width="1" height="13.5"/><rect x="990" y="244.6" width="1" height="8.7"/><rect x="994" y="259.3" width="1" height="35.7"/><rect x="1002" y="306.6" width="1" height="40.3"/><rect x="1014" y="294.6" width="1" height="3.4"/><rect x="1018" y="291.1" width="1" height="7.8"/><rect x="1022" y="295.5" width="1" height="14.5"/><rect x="1030" y="297.8" width="1" height="9.1"/></g>
<g fill="#b4d7be"><rect x="40" y="189.1" width="2" height="2.3"/><rect x="48" y="184.0" width="2" height="14.4"/><rect x="56" y="211.6" width="2" height="11.5"/><rect x="60" y="212.4" width="2" height="10.0"/><rect x="117" y="186.3" width="2" height="24.1"/><rect x="133" y="273.7" width="2" height="10.5"/><rect x="137" y="270.2" width="2" height="14.0"/><rect x="194" y="299.3" width="2" height="14.1"/><rect x="202" y="249.0" width="2" height="28.4"/><rect x="206" y="235.8" width="2" height="14.9"/><rect x="210" y="222.1" width="2" height="14.3"/><rect x="214" y="200.3" width="2" height="21.9"/><rect x="267" y="172.3" width="2" height="10.4"/><rect x="271" y="166.4" width="2" height="19.9"/><rect x="283" y="201.6" width="2" height="19.2"/><rect x="287" y="200.3" width="2" height="16.6"/><rect x="348" y="149.5" width="2" height="7.8"/><rect x="352" y="130.1" width="2" height="22.6"/><rect x="364" y="125.8" width="2" height="18.5"/><rect x="421" y="180.1" width="2" height="22.0"/><rect x="425" y="171.0" width="2" height="14.2"/><rect x="433" y="157.6" width="2" height="15.6"/><rect x="441" y="142.1" width="2" height="19.1"/><rect x="502" y="285.9" width="2" height="5.5"/><rect x="506" y="252.5" width="2" height="20.7"/><rect x="518" y="245.1" width="2" height="13.8"/><rect x="575" y="168.2" width="2" height="1.8"/><rect x="579" y="151.8" width="2" height="13.5"/><rect x="583" y="152.0" width="2" height="1.8"/><rect x="587" y="151.8" width="2" height="2.9"/><rect x="591" y="148.6" width="2" height="1.8"/><rect x="652" y="96.1" width="2" height="16.3"/><rect x="660" y="83.7" width="2" height="16.7"/><rect x="668" y="60.4" width="2" height="25.0"/><rect x="737" y="49.3" width="2" height="2.6"/><rect x="806" y="203.1" width="2" height="13.6"/><rect x="814" y="184.3" width="2" height="16.1"/><rect x="822" y="187.2" width="2" height="1.8"/><rect x="826" y="169.8" width="2" height="17.9"/><rect x="891" y="192.8" width="2" height="7.6"/><rect x="899" y="197.9" width="2" height="7.7"/><rect x="968" y="212.0" width="2" height="11.4"/></g>
<g fill="#dcaab9"><rect x="44" y="181.3" width="2" height="17.8"/><rect x="52" y="179.2" width="2" height="35.2"/><rect x="121" y="182.1" width="2" height="27.3"/><rect x="125" y="218.0" width="2" height="40.4"/><rect x="129" y="259.6" width="2" height="7.0"/><rect x="198" y="283.1" width="2" height="3.8"/><rect x="275" y="165.2" width="2" height="2.0"/><rect x="279" y="209.4" width="2" height="26.0"/><rect x="291" y="191.8" width="2" height="7.2"/><rect x="344" y="157.4" width="2" height="1.8"/><rect x="356" y="130.8" width="2" height="12.8"/><rect x="360" y="137.1" width="2" height="8.6"/><rect x="429" y="168.9" width="2" height="7.8"/><rect x="437" y="153.3" width="2" height="9.3"/><rect x="498" y="282.7" width="2" height="9.5"/><rect x="510" y="231.4" width="2" height="16.7"/><rect x="514" y="245.4" width="2" height="17.5"/><rect x="595" y="153.9" width="2" height="4.3"/><rect x="656" y="95.2" width="2" height="14.0"/><rect x="664" y="80.2" width="2" height="12.3"/><rect x="672" y="63.4" width="2" height="9.7"/><rect x="729" y="52.0" width="2" height="12.2"/><rect x="733" y="57.3" width="2" height="6.1"/><rect x="741" y="49.3" width="2" height="6.1"/><rect x="745" y="69.6" width="2" height="14.8"/><rect x="749" y="71.4" width="2" height="10.5"/><rect x="810" y="199.6" width="2" height="9.4"/><rect x="818" y="188.6" width="2" height="10.1"/><rect x="883" y="190.3" width="2" height="5.9"/><rect x="887" y="197.4" width="2" height="1.8"/><rect x="895" y="192.0" width="2" height="10.2"/><rect x="903" y="201.4" width="2" height="11.8"/><rect x="960" y="220.6" width="2" height="1.8"/><rect x="964" y="217.3" width="2" height="14.0"/><rect x="972" y="198.7" width="2" height="18.5"/><rect x="976" y="211.6" width="2" height="4.7"/><rect x="980" y="226.1" width="2" height="24.6"/></g>
<rect x="1031.8" y="306.5" width="4.05" height="54.5" fill="#e91e63" fill-opacity="0.42"/>
</g>
<g clip-path="url(#cm)" fill="none" stroke-width="1.2" stroke-linejoin="round">
<path d="M12.6,257.0 C14.6,256.4 20.6,254.6 25.0,253.5 C29.4,252.4 34.8,251.5 40.0,250.3 C45.2,249.1 52.1,247.3 57.7,246.2 C63.3,245.1 69.7,244.2 75.3,243.2 C80.9,242.2 87.4,240.7 93.0,239.7 C98.6,238.7 105.5,237.9 110.6,237.1 C115.7,236.3 120.2,235.5 124.7,235.0 C129.2,234.5 132.7,234.1 138.9,233.9 C145.1,233.7 156.8,233.6 163.6,233.5 C170.4,233.4 175.6,233.5 181.2,233.5 C186.8,233.5 193.3,233.5 198.9,233.2 C204.5,232.9 209.9,232.5 216.5,231.8 C223.1,231.1 234.2,229.9 240.0,229.1 C245.8,228.3 246.7,228.1 253.0,227.1 C259.3,226.1 270.9,224.2 279.4,222.7 C287.9,221.2 296.0,219.5 305.9,217.9 C315.8,216.3 329.9,214.6 341.2,213.0 C352.5,211.4 367.1,209.0 376.5,207.7 C385.9,206.4 392.8,206.0 400.0,205.0 C407.2,204.0 414.9,202.4 421.8,201.2 C428.7,200.0 436.2,198.7 443.0,197.7 C449.8,196.7 458.5,195.3 464.1,195.0 C469.7,194.7 473.2,195.5 478.3,195.9 C483.4,196.3 488.6,197.3 495.9,197.7 C503.2,198.1 515.7,198.5 524.2,198.7 C532.7,198.9 538.4,198.8 548.9,198.8 C559.4,198.8 577.9,198.8 590.0,198.6 C602.1,198.4 615.2,197.7 624.7,197.4 C634.2,197.1 642.7,197.0 649.4,196.7 C656.1,196.4 660.8,196.4 666.7,195.7 C672.6,195.0 679.3,193.7 686.4,192.5 C693.5,191.3 703.2,189.9 711.1,188.3 C719.0,186.7 727.9,184.2 735.8,182.6 C743.7,181.0 753.8,179.5 760.5,178.4 C767.2,177.3 772.7,176.4 777.8,175.9 C782.9,175.4 785.5,175.0 792.6,175.2 C799.7,175.4 813.5,176.6 822.2,176.9 C830.9,177.2 837.7,177.0 846.9,176.9 C856.1,176.8 872.3,176.5 879.8,176.4 C887.3,176.3 885.7,176.7 893.6,176.5 C901.5,176.3 918.8,175.8 928.9,175.1 C939.0,174.4 949.3,172.8 956.5,172.1 C963.7,171.4 968.5,170.8 974.1,170.5 C979.7,170.2 986.2,170.0 991.8,170.0 C997.4,170.0 1003.3,170.1 1009.4,170.5 C1015.5,170.9 1026.5,172.3 1029.7,172.6" stroke="#4ecdc4"/>
<path d="M12.6,193.3 C13.9,193.2 16.8,192.0 20.6,192.4 C24.4,192.8 31.1,194.6 36.5,195.9 C41.9,197.2 48.5,198.9 54.1,200.3 C59.7,201.7 66.7,203.6 71.8,204.7 C76.9,205.8 81.7,206.8 85.9,207.0 C90.1,207.2 94.1,206.7 98.3,206.1 C102.5,205.5 108.2,203.9 112.4,203.0 C116.6,202.1 121.4,201.1 124.7,200.7 C128.0,200.3 130.5,200.4 133.0,200.7 C135.5,201.0 137.4,200.9 140.6,202.5 C143.8,204.1 148.8,208.0 153.0,210.6 C157.2,213.2 162.6,216.7 167.1,218.5 C171.6,220.3 177.2,220.5 181.2,222.1 C185.2,223.7 188.4,226.2 191.8,228.2 C195.2,230.2 198.7,232.6 202.4,234.4 C206.1,236.2 210.8,238.2 214.8,239.7 C218.8,241.2 223.4,243.0 227.1,243.8 C230.8,244.6 233.9,244.8 238.0,244.7 C242.1,244.6 248.3,243.8 253.0,243.0 C257.7,242.2 263.4,240.4 267.1,239.4 C270.8,238.4 272.5,237.4 275.9,236.8 C279.3,236.2 283.5,236.5 288.3,235.9 C293.1,235.3 300.3,234.4 305.9,233.3 C311.5,232.2 318.5,230.7 323.6,228.9 C328.7,227.1 333.7,224.1 337.7,221.8 C341.7,219.5 344.9,217.8 348.3,214.7 C351.7,211.6 354.9,206.1 358.9,202.4 C362.9,198.7 368.5,195.2 373.0,191.8 C377.5,188.4 382.7,184.4 387.1,181.2 C391.5,178.0 397.0,174.4 400.6,172.1 C404.2,169.8 405.4,167.9 409.4,166.8 C413.4,165.7 419.9,165.8 425.3,165.0 C430.7,164.2 437.4,162.8 443.0,161.5 C448.6,160.2 456.6,157.8 460.6,157.1 C464.6,156.4 464.9,156.4 467.7,157.1 C470.5,157.8 473.8,159.7 478.3,161.5 C482.8,163.3 490.3,166.1 495.9,168.5 C501.5,170.9 508.5,174.2 513.6,176.5 C518.7,178.8 522.1,180.9 527.7,182.7 C533.3,184.5 542.7,186.6 548.9,188.0 C555.1,189.4 560.5,190.5 566.5,191.5 C572.5,192.5 581.1,193.9 586.5,194.4 C591.9,194.9 596.1,194.8 600.0,194.9 C603.9,195.0 607.5,195.6 611.1,194.9 C614.7,194.2 617.3,192.1 622.2,190.7 C627.1,189.3 635.3,187.6 642.0,186.3 C648.7,185.0 658.3,184.8 664.2,182.6 C670.1,180.4 674.3,176.3 679.0,172.7 C683.7,169.1 688.7,165.1 693.8,160.4 C698.9,155.7 705.6,148.4 711.1,143.1 C716.6,137.8 723.3,131.4 728.4,127.0 C733.5,122.6 738.5,119.1 743.2,115.9 C747.9,112.7 753.3,109.7 758.0,107.3 C762.7,104.9 768.8,102.4 772.8,101.1 C776.8,99.8 779.9,99.7 782.7,99.4 C785.5,99.1 786.9,98.7 790.1,99.4 C793.3,100.1 798.1,101.9 802.5,103.6 C806.9,105.3 812.6,108.3 817.3,109.8 C822.0,111.3 827.4,111.9 832.1,112.7 C836.8,113.5 842.2,113.4 846.9,114.7 C851.6,116.0 856.4,118.1 861.7,120.9 C867.0,123.7 873.6,128.6 879.8,132.0 C886.0,135.4 895.6,139.2 900.6,142.1 C905.6,145.0 906.7,146.9 911.2,150.0 C915.7,153.1 923.3,157.8 928.9,161.5 C934.5,165.2 941.2,169.4 946.5,173.0 C951.8,176.6 957.4,181.0 961.8,184.1 C966.2,187.2 969.3,189.3 974.1,192.1 C978.9,194.9 986.2,198.7 991.8,201.8 C997.4,204.9 1003.3,208.3 1009.4,211.5 C1015.5,214.7 1026.5,220.4 1029.7,222.1" stroke="#ff6b6b"/>
<path d="M12.6,188.0 C13.1,186.9 14.7,182.8 16.0,181.0 C17.3,179.2 18.5,177.6 20.6,176.5 C22.7,175.4 26.9,174.6 29.4,174.2 C31.9,173.8 33.5,174.2 36.0,174.1 C38.5,174.0 42.3,173.9 45.3,173.7 C48.3,173.5 52.5,173.2 55.0,173.1 C57.5,173.0 59.4,172.8 61.2,173.2 C63.0,173.6 64.8,174.5 66.5,175.7 C68.2,176.9 70.5,179.0 72.0,180.4 C73.5,181.8 74.6,182.8 76.0,184.3 C77.4,185.8 77.9,186.9 80.6,189.7 C83.3,192.5 89.0,197.7 93.0,201.5 C97.0,205.3 101.1,211.0 105.3,213.6 C109.5,216.2 116.0,216.2 119.4,217.5 C122.8,218.8 123.7,219.7 126.5,221.7 C129.3,223.7 134.0,227.9 137.1,230.3 C140.2,232.7 142.5,232.9 145.9,236.5 C149.3,240.1 154.3,249.1 158.3,253.0 C162.3,256.9 166.1,257.5 170.6,260.9 C175.1,264.3 182.0,269.7 186.5,274.1 C191.0,278.5 196.2,285.7 198.9,288.3 C201.6,290.9 201.6,290.4 203.3,290.4 C205.0,290.4 206.3,290.6 209.5,288.3 C212.7,286.0 219.9,280.4 223.6,275.9 C227.3,271.4 229.9,264.5 232.4,260.0 C234.9,255.5 235.7,251.9 239.0,247.5 C242.3,243.1 248.5,237.9 253.0,232.4 C257.5,226.9 263.4,218.5 267.1,213.0 C270.8,207.5 273.4,201.1 275.9,198.0 C278.4,194.9 280.5,194.6 283.0,193.5 C285.5,192.4 289.0,191.3 291.8,190.9 C294.6,190.5 297.2,191.7 300.6,190.9 C304.0,190.1 308.8,187.6 313.0,185.6 C317.2,183.6 322.6,180.2 327.1,178.5 C331.6,176.8 336.7,176.3 341.2,175.0 C345.7,173.7 350.8,173.6 355.3,170.6 C359.8,167.6 365.0,160.5 369.5,156.5 C374.0,152.5 379.6,147.7 383.6,145.9 C387.6,144.1 391.5,145.5 394.2,145.0 C396.9,144.5 398.2,143.9 400.6,143.0 C403.0,142.1 406.9,139.5 409.4,139.4 C411.9,139.3 412.3,140.8 416.5,142.1 C420.7,143.4 430.5,146.1 435.9,147.4 C441.3,148.7 446.0,149.7 450.0,150.0 C454.0,150.3 457.8,148.5 460.6,149.1 C463.4,149.7 465.2,151.1 467.7,153.5 C470.2,155.9 473.7,159.9 476.5,164.1 C479.3,168.3 482.5,175.2 485.3,180.0 C488.1,184.8 491.5,190.4 494.1,194.1 C496.7,197.8 498.6,199.8 501.8,203.3 C505.0,206.8 509.9,211.5 514.1,216.0 C518.3,220.5 524.3,227.2 528.3,231.5 C532.3,235.8 535.9,240.3 538.9,243.0 C541.9,245.7 544.5,247.8 546.8,248.3 C549.1,248.8 550.3,248.2 553.0,246.1 C555.7,244.0 560.2,239.2 563.6,235.0 C567.0,230.8 570.5,225.2 574.2,220.0 C577.9,214.8 583.1,206.9 586.5,202.4 C589.9,197.9 593.1,194.6 595.3,191.8 C597.5,189.0 597.3,189.0 600.0,185.0 C602.7,181.0 608.3,171.8 612.3,166.5 C616.3,161.2 621.4,155.1 624.7,151.7 C628.0,148.3 629.0,148.0 633.0,145.0 C637.0,142.0 644.6,136.9 649.4,133.2 C654.2,129.5 659.0,125.4 663.0,122.0 C667.0,118.6 670.7,114.6 674.1,112.2 C677.5,109.8 680.0,108.3 684.0,107.3 C688.0,106.3 694.9,107.2 698.8,106.0 C702.7,104.8 704.4,103.1 708.6,99.9 C712.8,96.7 720.0,89.4 724.8,85.9 C729.6,82.4 735.5,79.5 738.9,78.0 C742.3,76.5 743.4,76.7 745.9,76.7 C748.4,76.7 751.6,78.4 754.7,78.0 C757.8,77.6 762.6,75.1 765.3,74.4 C768.0,73.7 769.1,73.4 771.5,73.5 C773.9,73.6 777.5,73.9 780.0,75.3 C782.5,76.7 784.8,79.6 787.0,82.0 C789.2,84.4 790.9,85.6 793.8,90.0 C796.7,94.4 802.0,104.4 804.9,109.8 C807.8,115.2 810.0,120.1 812.0,124.0 C814.0,127.9 814.1,130.2 817.3,134.4 C820.5,138.6 828.4,146.6 832.1,150.5 C835.8,154.4 838.2,156.2 840.6,158.8 C843.0,161.4 843.9,162.9 846.9,166.5 C849.9,170.1 856.4,178.4 859.3,181.4 C862.2,184.4 863.3,184.0 865.3,185.3 C867.3,186.6 868.8,189.2 871.6,189.5 C874.4,189.8 879.5,187.6 883.0,187.1 C886.5,186.6 890.5,186.1 893.6,186.2 C896.7,186.3 898.7,186.2 902.4,188.0 C906.1,189.8 912.3,195.7 916.5,197.7 C920.7,199.7 925.0,200.2 928.9,200.3 C932.8,200.4 936.7,198.5 940.6,198.2 C944.5,197.9 949.0,197.5 953.0,198.2 C957.0,198.9 961.3,201.4 965.3,202.7 C969.3,204.0 974.0,205.0 977.7,206.2 C981.4,207.4 985.2,208.2 988.3,210.2 C991.4,212.2 994.6,215.0 997.1,218.5 C999.6,222.0 1001.0,226.9 1004.1,231.8 C1007.2,236.7 1012.4,243.7 1016.5,249.4 C1020.6,255.1 1027.6,264.5 1029.7,267.4" stroke="#ffd700"/>
</g>
<line x1="12.5" y1="34" x2="1054.5" y2="34" stroke="#418e5a" stroke-width="2" stroke-dasharray="7.7 3.3"/>
<line x1="12.5" y1="395" x2="1054.5" y2="395" stroke="#e74c3c" stroke-opacity="0.75" stroke-width="2" stroke-dasharray="7.7 3.3"/>
<rect x="12.5" y="11.4" width="1042.0" height="583.1" fill="none" stroke="#fff" stroke-opacity="0.47" stroke-width="1.15"/>
<line x1="12.5" y1="428.0" x2="1054.5" y2="428.0" stroke="#7a7a7a" stroke-width="2.2"/>
<g font-size="12.5" font-weight="bold">
<rect x="581.7" y="13.2" width="97.3" height="18" rx="2.6" fill="#030a06" stroke="#2ecc71" stroke-opacity="0.78" stroke-width="2.3"/>
<text x="630.5" y="25.9" text-anchor="middle" fill="#2ecc71">$223.61 52W</text>
<line x1="681" y1="28.6" x2="716" y2="33.4" stroke="#2ecc71" stroke-width="1.8"/>
<polygon points="722,34.3 712.6,36.6 713.6,29.6" fill="#2ecc71"/>
<rect x="200.2" y="398.2" width="97" height="17.9" rx="2.6" fill="#0c0808" stroke="#e8504f" stroke-opacity="0.85" stroke-width="2.3"/>
<text x="248.8" y="410.9" text-anchor="middle" fill="#ee5253">$144.15 52W</text>
<line x1="199" y1="401.3" x2="162" y2="396.3" stroke="#e8474a" stroke-width="1.8"/>
<polygon points="155.3,395.4 164.7,393.1 163.7,400.1" fill="#e8474a"/>
</g>
<g font-size="12.5" font-weight="bold">
<rect x="915.2" y="50.2" width="9.6" height="9.4" fill="#ffd700"/>
<text x="930.6" y="58.1" fill="#ffd700">SMA 20</text>
<rect x="915.2" y="66.7" width="9.6" height="9.4" fill="#ff6b6b"/>
<text x="930.6" y="74.6" fill="#ff6b6b">SMA 50</text>
<rect x="915.2" y="83.1" width="9.6" height="9.4" fill="#4ecdc4"/>
<text x="930.6" y="91.0" fill="#4ecdc4">SMA 200</text>
</g>
<g stroke="#fff" stroke-width="1.1">
<line x1="1054.5" y1="50.5" x2="1059.4" y2="50.5"/>
<line x1="1054.5" y1="141.5" x2="1059.4" y2="141.5"/>
<line x1="1054.5" y1="232.5" x2="1059.4" y2="232.5"/>
<line x1="1054.5" y1="323.5" x2="1059.4" y2="323.5"/>
<line x1="1054.5" y1="414.5" x2="1059.4" y2="414.5"/>
<line x1="1054.5" y1="456.5" x2="1059.4" y2="456.5"/>
<line x1="1054.5" y1="491.5" x2="1059.4" y2="491.5"/>
<line x1="1054.5" y1="526.5" x2="1059.4" y2="526.5"/>
<line x1="1054.5" y1="561.5" x2="1059.4" y2="561.5"/>
<line x1="53.5" y1="594.5" x2="53.5" y2="599.4"/>
<line x1="138.5" y1="594.5" x2="138.5" y2="599.4"/>
<line x1="223.5" y1="594.5" x2="223.5" y2="599.4"/>
<line x1="308.5" y1="594.5" x2="308.5" y2="599.4"/>
<line x1="389.5" y1="594.5" x2="389.5" y2="599.4"/>
<line x1="478.5" y1="594.5" x2="478.5" y2="599.4"/>
<line x1="563.5" y1="594.5" x2="563.5" y2="599.4"/>
<line x1="648.5" y1="594.5" x2="648.5" y2="599.4"/>
<line x1="742.5" y1="594.5" x2="742.5" y2="599.4"/>
<line x1="819.5" y1="594.5" x2="819.5" y2="599.4"/>
<line x1="908.5" y1="594.5" x2="908.5" y2="599.4"/>
<line x1="989.5" y1="594.5" x2="989.5" y2="599.4"/>
</g>
<g font-size="13.9" fill="#fff">
<text x="1063.8" y="56.1" letter-spacing="-0.45">220</text>
<text x="1063.8" y="147.1" letter-spacing="-0.45">200</text>
<text x="1063.8" y="238.1" letter-spacing="-0.45">180</text>
<text x="1063.8" y="329.1" letter-spacing="-0.45">160</text>
<text x="1063.8" y="420.1" letter-spacing="-0.45">140</text>
<text x="1063.8" y="462.1" letter-spacing="-0.45">40</text>
<text x="1063.8" y="497.1" letter-spacing="-0.45">30</text>
<text x="1063.8" y="532.1" letter-spacing="-0.45">20</text>
<text x="1063.8" y="567.1" letter-spacing="-0.45">10</text>
<text transform="translate(1106.8,222.7) rotate(-90)" text-anchor="middle" letter-spacing="-0.25">Preis</text>
<text transform="translate(1097.4,513.2) rotate(-90)" text-anchor="middle" letter-spacing="-0.22">Volumen</text>
<text transform="translate(1117,519.5) rotate(-90)">10<tspan font-size="9.7" dy="-5.3">6</tspan></text>
<text transform="translate(51.2,632.7) rotate(-45)" text-anchor="middle" dy="4.8">Mar 2025</text>
<text transform="translate(220.8,632.7) rotate(-45)" text-anchor="middle" dy="4.8">May 2025</text>
<text transform="translate(386.9,632.7) rotate(-45)" text-anchor="middle" dy="4.8">Jul 2025</text>
<text transform="translate(560.8,632.7) rotate(-45)" text-anchor="middle" dy="4.8">Sep 2025</text>
<text transform="translate(740.0,632.7) rotate(-45)" text-anchor="middle" dy="4.8">Nov 2025</text>
<text transform="translate(906.1,632.7) rotate(-45)" text-anchor="middle" dy="4.8">Jan 2026</text>
</g>
</svg>
</body></html>
